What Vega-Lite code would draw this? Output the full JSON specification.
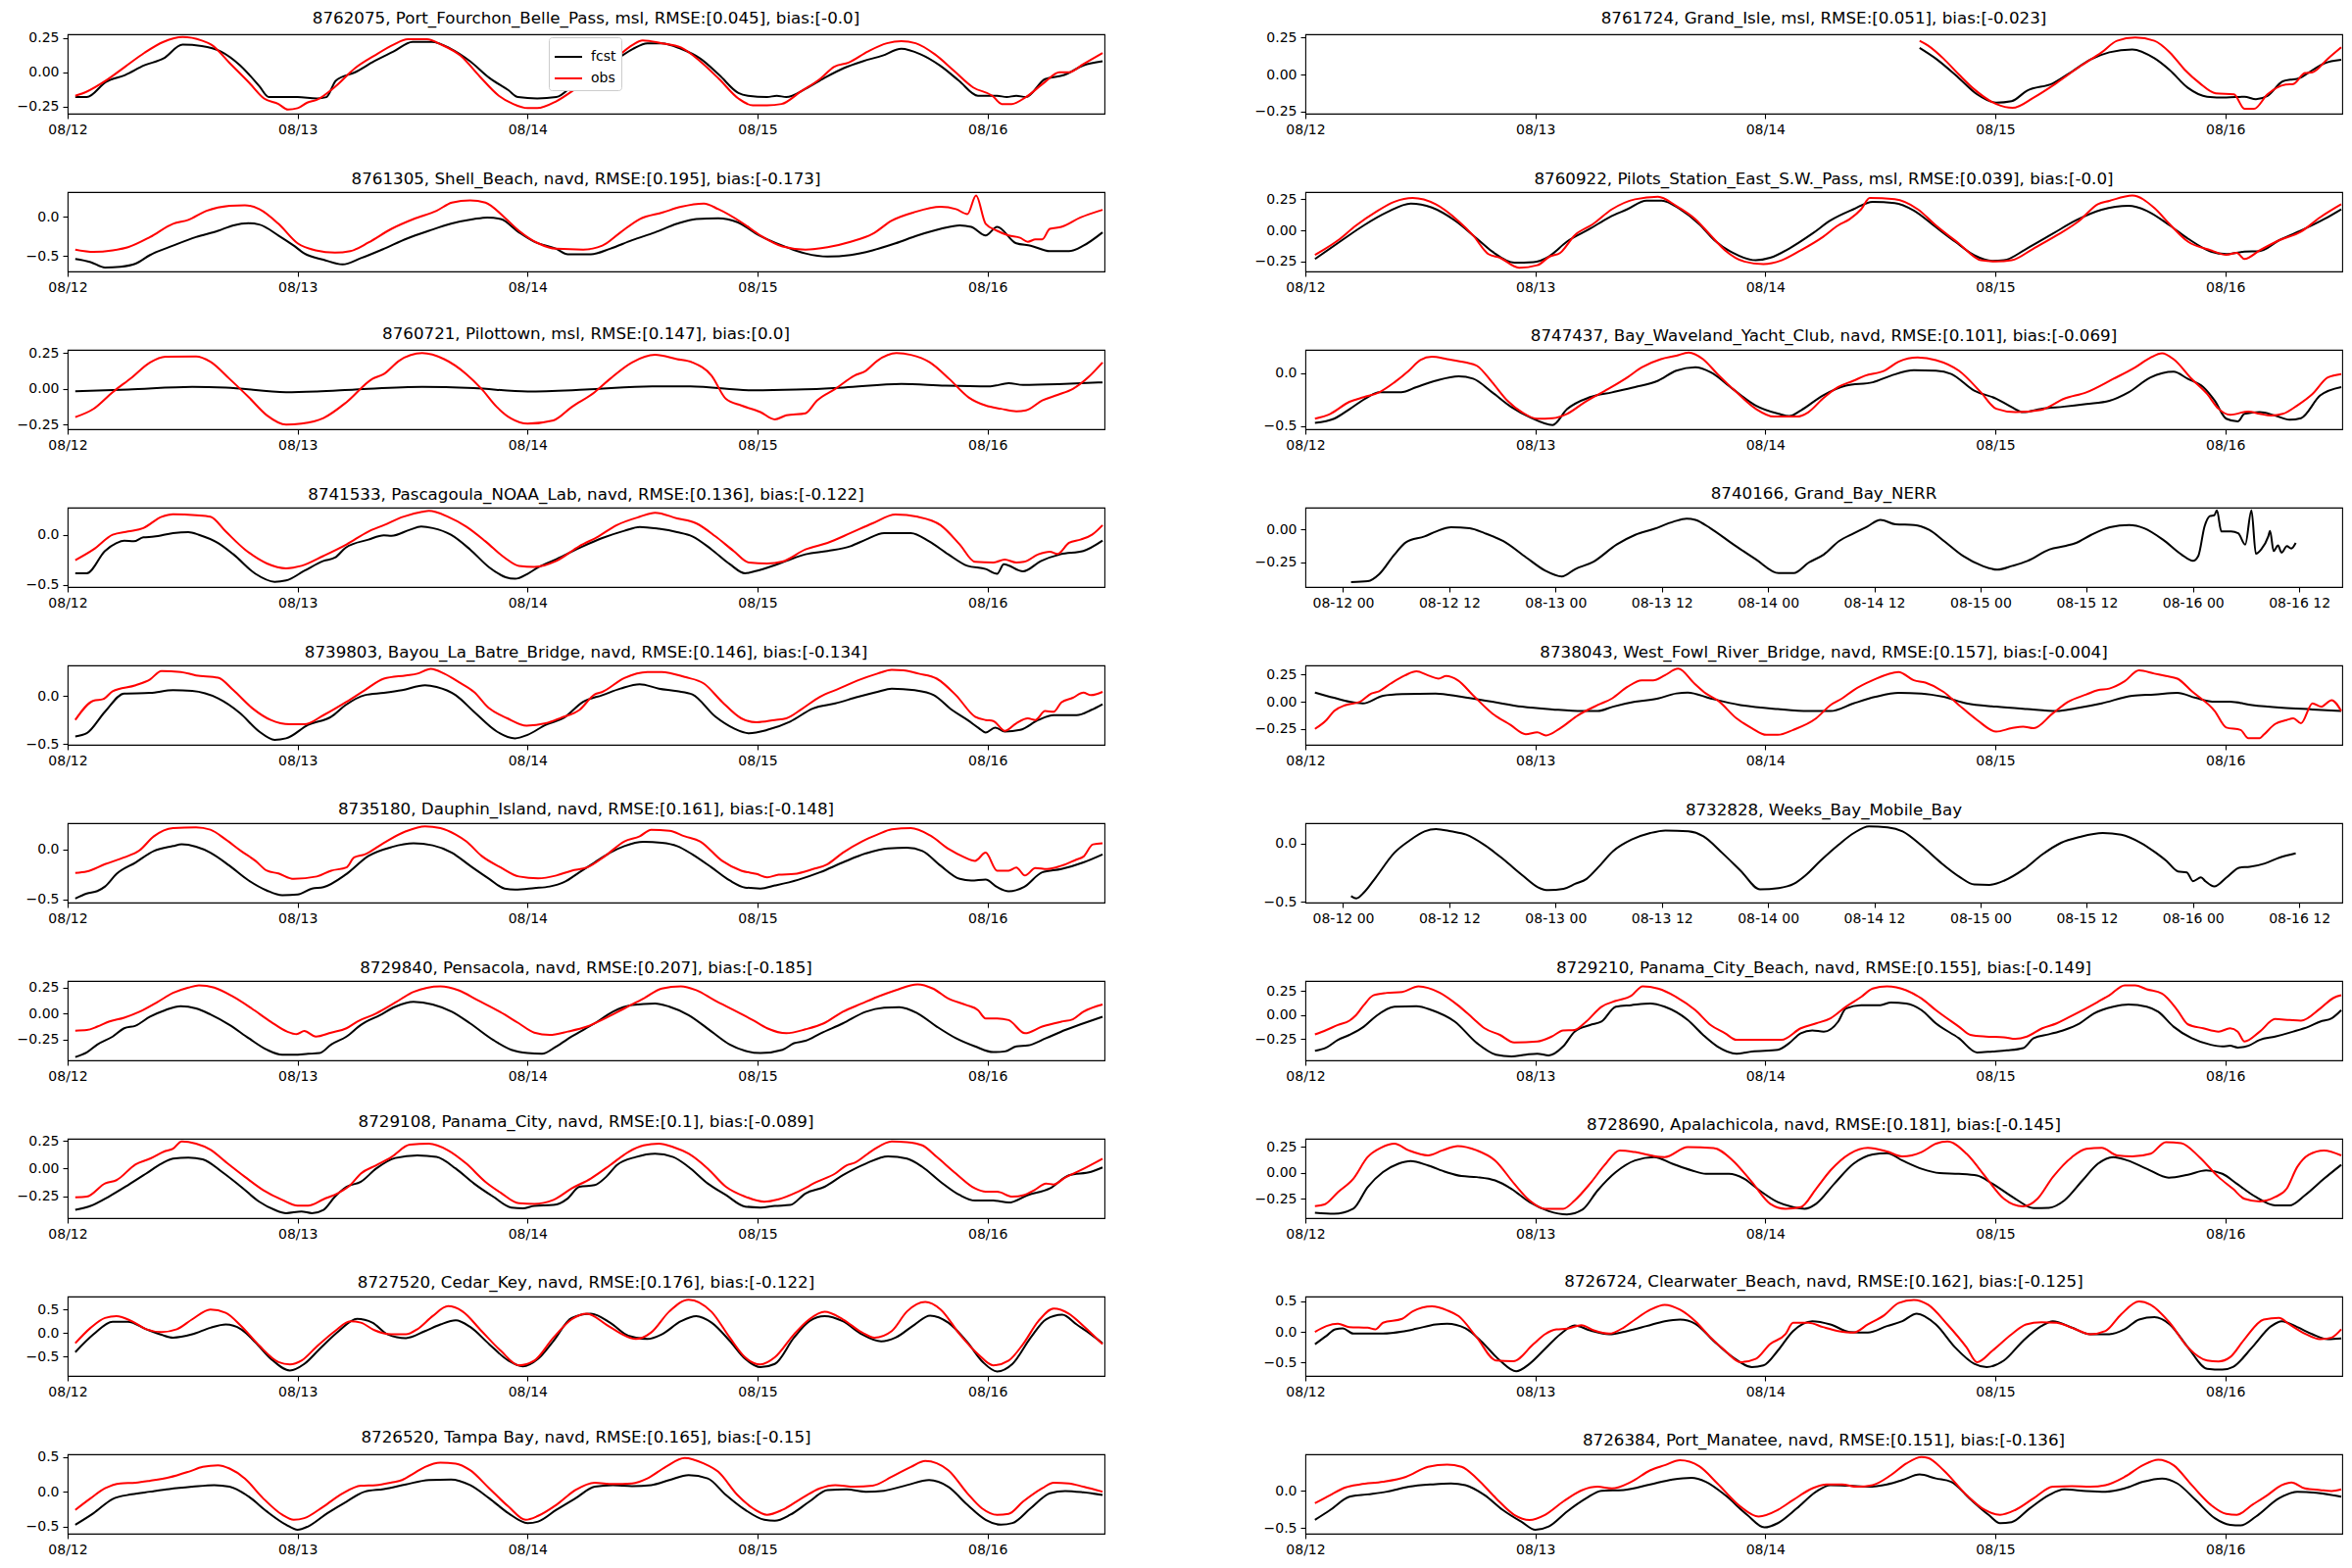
{
"$schema": "https://vega.github.io/schema/vega-lite/v6.json",
"padding": {"left": 16, "top": 10, "right": 5, "bottom": 5},
"background": "white",
"config": {
 "font": "DejaVu Sans",
 "view": {"stroke": "black", "strokeWidth": 1.1},
 "axis": {"grid": false, "domain": false, "tickColor": "black", "tickSize": 5, "tickWidth": 1.1, "labelFontSize": 14, "labelColor": "black", "labelPadding": 4, "title": null, "labelFlush": false, "labelOverlap": false},
 "title": {"fontSize": 16.7, "fontWeight": "normal", "offset": 4, "color": "black", "frame": "group"},
 "line": {"strokeWidth": 2, "interpolate": "monotone", "clip": true}
},
"datasets": {
"p1": [{"h":0.8,"fcst":-0.18},{"h":2,"fcst":-0.18},{"h":4,"fcst":-0.07},{"h":6,"fcst":-0.02},{"h":8,"fcst":0.05},{"h":10,"fcst":0.1},{"h":12,"fcst":0.2},{"h":14,"fcst":0.19},{"h":16,"fcst":0.15},{"h":18,"fcst":0.05},{"h":20,"fcst":-0.1},{"h":21,"fcst":-0.18},{"h":24,"fcst":-0.18},{"h":26,"fcst":-0.19},{"h":27,"fcst":-0.18},{"h":28,"fcst":-0.06},{"h":30,"fcst":0},{"h":32,"fcst":0.08},{"h":34,"fcst":0.15},{"h":36,"fcst":0.22},{"h":38,"fcst":0.22},{"h":40,"fcst":0.17},{"h":42,"fcst":0.08},{"h":44,"fcst":-0.04},{"h":46,"fcst":-0.13},{"h":47,"fcst":-0.18},{"h":49,"fcst":-0.19},{"h":51,"fcst":-0.18},{"h":53,"fcst":-0.08},{"h":55,"fcst":0},{"h":57,"fcst":0.08},{"h":59,"fcst":0.17},{"h":60.5,"fcst":0.21},{"h":62,"fcst":0.21},{"h":64,"fcst":0.17},{"h":66,"fcst":0.1},{"h":68,"fcst":-0.02},{"h":70,"fcst":-0.15},{"h":71,"fcst":-0.17},{"h":73,"fcst":-0.18},{"h":74,"fcst":-0.17},{"h":75,"fcst":-0.18},{"h":77,"fcst":-0.12},{"h":79,"fcst":-0.04},{"h":81,"fcst":0.03},{"h":83,"fcst":0.08},{"h":85,"fcst":0.12},{"h":87,"fcst":0.17},{"h":89,"fcst":0.13},{"h":91,"fcst":0.05},{"h":93,"fcst":-0.06},{"h":95,"fcst":-0.17},{"h":97,"fcst":-0.17},{"h":98,"fcst":-0.18},{"h":99,"fcst":-0.17},{"h":100,"fcst":-0.18},{"h":102,"fcst":-0.05},{"h":104,"fcst":-0.02},{"h":106,"fcst":0.05},{"h":108,"fcst":0.08},
{"h":0.8,"obs":-0.17},{"h":2,"obs":-0.14},{"h":4,"obs":-0.06},{"h":6,"obs":0.04},{"h":8,"obs":0.14},{"h":10,"obs":0.22},{"h":12,"obs":0.255},{"h":14,"obs":0.23},{"h":15,"obs":0.2},{"h":17,"obs":0.06},{"h":19,"obs":-0.08},{"h":20.5,"obs":-0.19},{"h":22,"obs":-0.23},{"h":23,"obs":-0.27},{"h":24,"obs":-0.26},{"h":25,"obs":-0.22},{"h":26,"obs":-0.2},{"h":28,"obs":-0.1},{"h":30,"obs":0.03},{"h":32,"obs":0.12},{"h":34,"obs":0.2},{"h":35.5,"obs":0.24},{"h":37.5,"obs":0.24},{"h":39,"obs":0.2},{"h":41,"obs":0.12},{"h":43,"obs":-0.03},{"h":45,"obs":-0.17},{"h":46.5,"obs":-0.23},{"h":48,"obs":-0.26},{"h":49,"obs":-0.26},{"h":51,"obs":-0.21},{"h":53,"obs":-0.12},{"h":55,"obs":-0.02},{"h":57,"obs":0.09},{"h":59,"obs":0.2},{"h":60,"obs":0.23},{"h":62,"obs":0.21},{"h":64,"obs":0.18},{"h":66,"obs":0.08},{"h":68,"obs":-0.05},{"h":70,"obs":-0.19},{"h":71.5,"obs":-0.24},{"h":73,"obs":-0.24},{"h":74.5,"obs":-0.23},{"h":76.5,"obs":-0.14},{"h":78.5,"obs":-0.05},{"h":80,"obs":0.04},{"h":81.5,"obs":0.07},{"h":83.5,"obs":0.15},{"h":85.5,"obs":0.21},{"h":87,"obs":0.225},{"h":88.5,"obs":0.21},{"h":90.5,"obs":0.13},{"h":92.5,"obs":0.01},{"h":94.5,"obs":-0.11},{"h":96.5,"obs":-0.17},{"h":97.5,"obs":-0.23},{"h":98.5,"obs":-0.23},{"h":100,"obs":-0.18},{"h":102,"obs":-0.07},{"h":103.5,"obs":0},{"h":104.5,"obs":0},{"h":106,"obs":0.06},{"h":108,"obs":0.14}],
"p2": [{"h":64.1,"fcst":0.18},{"h":65.8,"fcst":0.107},{"h":68.2,"fcst":-0.024},{"h":70.1,"fcst":-0.134},{"h":72.1,"fcst":-0.19},{"h":73.7,"fcst":-0.18},{"h":75.3,"fcst":-0.11},{"h":78,"fcst":-0.06},{"h":80,"fcst":0.02},{"h":81.9,"fcst":0.1},{"h":83.9,"fcst":0.15},{"h":86.3,"fcst":0.17},{"h":88.6,"fcst":0.11},{"h":90.2,"fcst":0.03},{"h":92.1,"fcst":-0.09},{"h":94.1,"fcst":-0.15},{"h":96.1,"fcst":-0.156},{"h":98,"fcst":-0.15},{"h":99.2,"fcst":-0.167},{"h":100.4,"fcst":-0.145},{"h":102,"fcst":-0.046},{"h":102.8,"fcst":-0.035},{"h":103.5,"fcst":-0.03},{"h":105.1,"fcst":0.03},{"h":106.3,"fcst":0.075},{"h":108.1,"fcst":0.1},
{"h":64.1,"obs":0.228},{"h":65,"obs":0.195},{"h":66.6,"obs":0.107},{"h":68.2,"obs":0},{"h":69.8,"obs":-0.1},{"h":72.1,"obs":-0.2},{"h":73.8,"obs":-0.226},{"h":76,"obs":-0.156},{"h":78.4,"obs":-0.057},{"h":80.8,"obs":0.053},{"h":83.1,"obs":0.15},{"h":84.7,"obs":0.228},{"h":86.6,"obs":0.25},{"h":88.6,"obs":0.228},{"h":90.2,"obs":0.15},{"h":91.8,"obs":0.03},{"h":93.3,"obs":-0.057},{"h":95,"obs":-0.127},{"h":96.9,"obs":-0.134},{"h":98,"obs":-0.232},{"h":99,"obs":-0.232},{"h":100.4,"obs":-0.134},{"h":102.3,"obs":-0.068},{"h":103.1,"obs":-0.064},{"h":104.3,"obs":0.01},{"h":105.1,"obs":0.015},{"h":106.7,"obs":0.107},{"h":108.1,"obs":0.184}],
"p3": [{"h":0.8,"fcst":-0.54},{"h":2.4,"fcst":-0.58},{"h":3.9,"fcst":-0.65},{"h":5.5,"fcst":-0.64},{"h":7.1,"fcst":-0.6},{"h":8.6,"fcst":-0.49},{"h":11,"fcst":-0.37},{"h":13.4,"fcst":-0.26},{"h":15.7,"fcst":-0.18},{"h":17.3,"fcst":-0.11},{"h":18.9,"fcst":-0.084},{"h":20,"fcst":-0.1},{"h":22,"fcst":-0.24},{"h":23.6,"fcst":-0.37},{"h":24.7,"fcst":-0.47},{"h":26.7,"fcst":-0.55},{"h":28.7,"fcst":-0.61},{"h":30.6,"fcst":-0.53},{"h":33,"fcst":-0.41},{"h":35.4,"fcst":-0.28},{"h":37.7,"fcst":-0.18},{"h":40,"fcst":-0.09},{"h":42.4,"fcst":-0.03},{"h":43.8,"fcst":-0.01},{"h":45.2,"fcst":-0.03},{"h":47.1,"fcst":-0.2},{"h":48.7,"fcst":-0.32},{"h":51,"fcst":-0.41},{"h":52.2,"fcst":-0.48},{"h":54.6,"fcst":-0.48},{"h":56.6,"fcst":-0.41},{"h":58.9,"fcst":-0.3},{"h":61.3,"fcst":-0.2},{"h":63.6,"fcst":-0.09},{"h":65.6,"fcst":-0.03},{"h":67.9,"fcst":-0.02},{"h":69.9,"fcst":-0.07},{"h":72.2,"fcst":-0.24},{"h":74.6,"fcst":-0.37},{"h":77,"fcst":-0.47},{"h":79.3,"fcst":-0.51},{"h":81.7,"fcst":-0.49},{"h":84,"fcst":-0.43},{"h":86.4,"fcst":-0.34},{"h":88.7,"fcst":-0.24},{"h":91.1,"fcst":-0.155},{"h":93.1,"fcst":-0.11},{"h":94.3,"fcst":-0.13},{"h":95.8,"fcst":-0.24},{"h":97,"fcst":-0.13},{"h":99,"fcst":-0.34},{"h":100.5,"fcst":-0.37},{"h":102.5,"fcst":-0.44},{"h":104.5,"fcst":-0.44},{"h":106,"fcst":-0.37},{"h":108,"fcst":-0.2},
{"h":0.8,"obs":-0.42},{"h":2.7,"obs":-0.45},{"h":4.7,"obs":-0.43},{"h":6.3,"obs":-0.39},{"h":8.6,"obs":-0.26},{"h":11,"obs":-0.09},{"h":12.6,"obs":-0.04},{"h":14.5,"obs":0.076},{"h":16.9,"obs":0.14},{"h":18.5,"obs":0.147},{"h":20,"obs":0.097},{"h":22,"obs":-0.09},{"h":24,"obs":-0.34},{"h":25.9,"obs":-0.43},{"h":27.9,"obs":-0.46},{"h":29.5,"obs":-0.44},{"h":31.4,"obs":-0.33},{"h":33.8,"obs":-0.155},{"h":36.1,"obs":-0.03},{"h":38.5,"obs":0.076},{"h":40.1,"obs":0.18},{"h":42,"obs":0.21},{"h":43.6,"obs":0.18},{"h":45.6,"obs":-0.01},{"h":47.1,"obs":-0.18},{"h":49.1,"obs":-0.34},{"h":51,"obs":-0.41},{"h":53.8,"obs":-0.42},{"h":55.8,"obs":-0.37},{"h":57.7,"obs":-0.2},{"h":59.7,"obs":-0.03},{"h":62.1,"obs":0.055},{"h":64,"obs":0.126},{"h":66.4,"obs":0.168},{"h":67.9,"obs":0.097},{"h":70.3,"obs":-0.07},{"h":72.3,"obs":-0.24},{"h":74.6,"obs":-0.38},{"h":77,"obs":-0.42},{"h":79.3,"obs":-0.39},{"h":81.7,"obs":-0.32},{"h":84,"obs":-0.22},{"h":86,"obs":-0.05},{"h":88.3,"obs":0.055},{"h":91.1,"obs":0.126},{"h":92.7,"obs":0.097},{"h":93.9,"obs":0.034},{"h":94.8,"obs":0.27},{"h":95.8,"obs":-0.09},{"h":97,"obs":-0.18},{"h":98.2,"obs":-0.24},{"h":99.4,"obs":-0.27},{"h":100.2,"obs":-0.32},{"h":101,"obs":-0.29},{"h":101.7,"obs":-0.29},{"h":102.5,"obs":-0.155},{"h":103.7,"obs":-0.13},{"h":105.7,"obs":-0.01},{"h":108,"obs":0.088}],
"p4": [{"h":1,"fcst":-0.23},{"h":3.8,"fcst":-0.08},{"h":6.1,"fcst":0.04},{"h":8.5,"fcst":0.145},{"h":11,"fcst":0.216},{"h":13.2,"fcst":0.184},{"h":15.6,"fcst":0.08},{"h":17.9,"fcst":-0.066},{"h":19.5,"fcst":-0.17},{"h":21.8,"fcst":-0.26},{"h":23.8,"fcst":-0.255},{"h":25.4,"fcst":-0.21},{"h":27.3,"fcst":-0.09},{"h":29.7,"fcst":0.013},{"h":31.7,"fcst":0.105},{"h":33.6,"fcst":0.17},{"h":35.6,"fcst":0.24},{"h":37.2,"fcst":0.24},{"h":39.1,"fcst":0.17},{"h":41.1,"fcst":0.05},{"h":42.7,"fcst":-0.08},{"h":44.6,"fcst":-0.18},{"h":47,"fcst":-0.24},{"h":48.5,"fcst":-0.22},{"h":50.5,"fcst":-0.145},{"h":52.9,"fcst":-0.026},{"h":54.8,"fcst":0.08},{"h":57.2,"fcst":0.17},{"h":59.2,"fcst":0.23},{"h":61.5,"fcst":0.22},{"h":63.5,"fcst":0.16},{"h":65.8,"fcst":0.026},{"h":67.8,"fcst":-0.09},{"h":69.8,"fcst":-0.2},{"h":71.7,"fcst":-0.245},{"h":72.9,"fcst":-0.24},{"h":75.3,"fcst":-0.145},{"h":78,"fcst":-0.026},{"h":80.4,"fcst":0.08},{"h":83.1,"fcst":0.166},{"h":85.9,"fcst":0.197},{"h":87.8,"fcst":0.158},{"h":90.2,"fcst":0.04},{"h":92.1,"fcst":-0.066},{"h":94.5,"fcst":-0.17},{"h":96.1,"fcst":-0.19},{"h":98,"fcst":-0.17},{"h":99.6,"fcst":-0.166},{"h":101.6,"fcst":-0.08},{"h":104.3,"fcst":0.013},{"h":106.3,"fcst":0.09},{"h":108.1,"fcst":0.17},
{"h":1,"obs":-0.197},{"h":3.4,"obs":-0.08},{"h":5.3,"obs":0.04},{"h":7.3,"obs":0.145},{"h":9.3,"obs":0.23},{"h":11.2,"obs":0.26},{"h":13.6,"obs":0.21},{"h":15.9,"obs":0.08},{"h":17.5,"obs":-0.04},{"h":19.1,"obs":-0.19},{"h":20.3,"obs":-0.22},{"h":22.3,"obs":-0.3},{"h":24.2,"obs":-0.28},{"h":25.5,"obs":-0.21},{"h":26.6,"obs":-0.18},{"h":28.1,"obs":-0.04},{"h":30,"obs":0.05},{"h":32,"obs":0.17},{"h":34.4,"obs":0.25},{"h":36.8,"obs":0.27},{"h":38.7,"obs":0.197},{"h":40.7,"obs":0.09},{"h":42.3,"obs":-0.04},{"h":43.8,"obs":-0.16},{"h":45.8,"obs":-0.25},{"h":47.8,"obs":-0.27},{"h":49.7,"obs":-0.24},{"h":51.7,"obs":-0.16},{"h":54,"obs":-0.053},{"h":55.6,"obs":0.04},{"h":56.8,"obs":0.09},{"h":58,"obs":0.17},{"h":58.9,"obs":0.26},{"h":61.5,"obs":0.25},{"h":63.9,"obs":0.17},{"h":65.8,"obs":0.04},{"h":68.2,"obs":-0.105},{"h":70.5,"obs":-0.24},{"h":72.1,"obs":-0.25},{"h":73.7,"obs":-0.24},{"h":76,"obs":-0.145},{"h":78.4,"obs":-0.04},{"h":80.8,"obs":0.08},{"h":82.7,"obs":0.21},{"h":83.9,"obs":0.237},{"h":86.3,"obs":0.28},{"h":88.6,"obs":0.18},{"h":90.2,"obs":0.05},{"h":92.1,"obs":-0.09},{"h":94.5,"obs":-0.16},{"h":96.1,"obs":-0.197},{"h":97.2,"obs":-0.18},{"h":98,"obs":-0.23},{"h":99.6,"obs":-0.16},{"h":101.6,"obs":-0.08},{"h":103.9,"obs":-0.01},{"h":105.9,"obs":0.105},{"h":108.1,"obs":0.21}],
"p5": [{"h":0.8,"fcst":-0.016},{"h":6.3,"fcst":-0.005},{"h":13,"fcst":0.014},{"h":16.5,"fcst":0.01},{"h":22.8,"fcst":-0.023},{"h":26,"fcst":-0.018},{"h":30,"fcst":-0.005},{"h":37,"fcst":0.014},{"h":42.4,"fcst":0.005},{"h":48,"fcst":-0.018},{"h":54,"fcst":-0.005},{"h":61,"fcst":0.018},{"h":65,"fcst":0.018},{"h":71.5,"fcst":-0.01},{"h":76,"fcst":-0.005},{"h":81,"fcst":0.01},{"h":87,"fcst":0.035},{"h":91.6,"fcst":0.023},{"h":96.3,"fcst":0.018},{"h":98.2,"fcst":0.04},{"h":99.7,"fcst":0.028},{"h":104,"fcst":0.035},{"h":108,"fcst":0.046},
{"h":0.8,"obs":-0.197},{"h":2.7,"obs":-0.14},{"h":4.7,"obs":-0.023},{"h":6.7,"obs":0.08},{"h":8.6,"obs":0.185},{"h":10.2,"obs":0.225},{"h":13.4,"obs":0.227},{"h":14.9,"obs":0.19},{"h":16.9,"obs":0.07},{"h":18.9,"obs":-0.058},{"h":20.8,"obs":-0.185},{"h":22.8,"obs":-0.25},{"h":24.4,"obs":-0.243},{"h":26.7,"obs":-0.204},{"h":29.1,"obs":-0.093},{"h":31.8,"obs":0.07},{"h":33,"obs":0.104},{"h":34.6,"obs":0.197},{"h":37,"obs":0.25},{"h":39.3,"obs":0.208},{"h":41.6,"obs":0.104},{"h":43.2,"obs":0},{"h":44.8,"obs":-0.127},{"h":46.3,"obs":-0.208},{"h":48,"obs":-0.243},{"h":50.7,"obs":-0.22},{"h":52.6,"obs":-0.127},{"h":55,"obs":-0.023},{"h":56.6,"obs":0.07},{"h":58.9,"obs":0.185},{"h":61.3,"obs":0.238},{"h":63.6,"obs":0.208},{"h":65.2,"obs":0.185},{"h":67.2,"obs":0.093},{"h":68.7,"obs":-0.07},{"h":70.3,"obs":-0.116},{"h":72.3,"obs":-0.162},{"h":73.8,"obs":-0.213},{"h":75,"obs":-0.185},{"h":77,"obs":-0.17},{"h":78.2,"obs":-0.081},{"h":80.1,"obs":0},{"h":82.1,"obs":0.093},{"h":83.3,"obs":0.127},{"h":84.5,"obs":0.197},{"h":86.5,"obs":0.25},{"h":88,"obs":0.238},{"h":90,"obs":0.185},{"h":92,"obs":0.07},{"h":94,"obs":-0.058},{"h":95.8,"obs":-0.116},{"h":97.4,"obs":-0.139},{"h":99,"obs":-0.157},{"h":100,"obs":-0.15},{"h":101.7,"obs":-0.081},{"h":103.3,"obs":-0.042},{"h":104.9,"obs":0},{"h":106.5,"obs":0.081},{"h":108,"obs":0.185}],
"p6": [{"h":1,"fcst":-0.47},{"h":3,"fcst":-0.43},{"h":4.6,"fcst":-0.34},{"h":6.5,"fcst":-0.226},{"h":7.7,"fcst":-0.18},{"h":10,"fcst":-0.18},{"h":11.6,"fcst":-0.13},{"h":13.6,"fcst":-0.07},{"h":16,"fcst":-0.028},{"h":17.5,"fcst":-0.05},{"h":19.5,"fcst":-0.18},{"h":21.5,"fcst":-0.32},{"h":23.4,"fcst":-0.415},{"h":25.8,"fcst":-0.49},{"h":27.3,"fcst":-0.34},{"h":29.7,"fcst":-0.226},{"h":32,"fcst":-0.18},{"h":34.4,"fcst":-0.13},{"h":36.8,"fcst":-0.07},{"h":38.7,"fcst":0.025},{"h":40.7,"fcst":0.057},{"h":42.3,"fcst":0.01},{"h":44.6,"fcst":-0.148},{"h":47,"fcst":-0.305},{"h":49.4,"fcst":-0.384},{"h":50.5,"fcst":-0.405},{"h":51.7,"fcst":-0.352},{"h":54,"fcst":-0.21},{"h":56.4,"fcst":-0.116},{"h":59.2,"fcst":-0.085},{"h":61.1,"fcst":-0.022},{"h":63.5,"fcst":0.03},{"h":65.8,"fcst":0.025},{"h":67.4,"fcst":-0.006},{"h":69.8,"fcst":-0.164},{"h":72.1,"fcst":-0.24},{"h":73.7,"fcst":-0.32},{"h":74.9,"fcst":-0.368},{"h":76.8,"fcst":-0.336},{"h":79.2,"fcst":-0.315},{"h":81.5,"fcst":-0.29},{"h":83.9,"fcst":-0.26},{"h":85.9,"fcst":-0.18},{"h":88.2,"fcst":-0.038},{"h":90.6,"fcst":0.016},{"h":92.1,"fcst":-0.053},{"h":93.7,"fcst":-0.13},{"h":94.9,"fcst":-0.26},{"h":96.1,"fcst":-0.43},{"h":97.3,"fcst":-0.456},{"h":98,"fcst":-0.384},{"h":99.6,"fcst":-0.368},{"h":101.2,"fcst":-0.4},{"h":102.7,"fcst":-0.44},{"h":103.9,"fcst":-0.425},{"h":105.9,"fcst":-0.21},{"h":108.1,"fcst":-0.13},
{"h":1,"obs":-0.43},{"h":2.6,"obs":-0.384},{"h":4.6,"obs":-0.27},{"h":6.1,"obs":-0.226},{"h":7.7,"obs":-0.18},{"h":9.3,"obs":-0.085},{"h":10.8,"obs":0.025},{"h":12,"obs":0.126},{"h":13.2,"obs":0.157},{"h":14.8,"obs":0.135},{"h":16.7,"obs":0.104},{"h":17.9,"obs":0.072},{"h":19.5,"obs":-0.085},{"h":21.1,"obs":-0.26},{"h":22.6,"obs":-0.368},{"h":24.2,"obs":-0.43},{"h":25.8,"obs":-0.425},{"h":27.3,"obs":-0.384},{"h":29.2,"obs":-0.27},{"h":31.6,"obs":-0.148},{"h":33.6,"obs":-0.038},{"h":35.1,"obs":0.057},{"h":37.1,"obs":0.135},{"h":38.7,"obs":0.167},{"h":40,"obs":0.198},{"h":41.5,"obs":0.135},{"h":43,"obs":-0.006},{"h":45,"obs":-0.18},{"h":47,"obs":-0.336},{"h":48.9,"obs":-0.41},{"h":51.3,"obs":-0.41},{"h":52.5,"obs":-0.368},{"h":54,"obs":-0.24},{"h":55.6,"obs":-0.13},{"h":57.2,"obs":-0.07},{"h":58.4,"obs":-0.022},{"h":60.4,"obs":0.025},{"h":61.9,"obs":0.11},{"h":63.9,"obs":0.15},{"h":65.8,"obs":0.126},{"h":68.2,"obs":0.025},{"h":70.5,"obs":-0.18},{"h":72.1,"obs":-0.336},{"h":74.1,"obs":-0.368},{"h":76.8,"obs":-0.346},{"h":79.2,"obs":-0.24},{"h":81.5,"obs":-0.18},{"h":84.3,"obs":-0.053},{"h":86.6,"obs":0.057},{"h":88.2,"obs":0.15},{"h":89.4,"obs":0.19},{"h":90.6,"obs":0.135},{"h":92.5,"obs":-0.053},{"h":94.1,"obs":-0.195},{"h":95.3,"obs":-0.336},{"h":96.5,"obs":-0.393},{"h":98.4,"obs":-0.362},{"h":99.6,"obs":-0.384},{"h":100.8,"obs":-0.4},{"h":102,"obs":-0.384},{"h":103.5,"obs":-0.305},{"h":105.1,"obs":-0.195},{"h":106.7,"obs":-0.038},{"h":108.1,"obs":-0.006}],
"p7": [{"h":0.8,"fcst":-0.385},{"h":2,"fcst":-0.385},{"h":3.9,"fcst":-0.16},{"h":5.1,"fcst":-0.08},{"h":5.9,"fcst":-0.056},{"h":6.9,"fcst":-0.063},{"h":7.9,"fcst":-0.023},{"h":9,"fcst":-0.016},{"h":11,"fcst":0.02},{"h":12.6,"fcst":0.03},{"h":13.7,"fcst":0.003},{"h":15.7,"fcst":-0.08},{"h":17.3,"fcst":-0.194},{"h":19.6,"fcst":-0.39},{"h":21.6,"fcst":-0.47},{"h":22.8,"fcst":-0.457},{"h":24.7,"fcst":-0.36},{"h":26.7,"fcst":-0.26},{"h":27.9,"fcst":-0.227},{"h":29,"fcst":-0.128},{"h":31.4,"fcst":-0.046},{"h":33,"fcst":-0.003},{"h":33.8,"fcst":-0.007},{"h":35.7,"fcst":0.053},{"h":36.9,"fcst":0.085},{"h":38.1,"fcst":0.07},{"h":40,"fcst":0.003},{"h":42,"fcst":-0.145},{"h":44,"fcst":-0.325},{"h":45.7,"fcst":-0.424},{"h":46.7,"fcst":-0.44},{"h":48,"fcst":-0.39},{"h":49.1,"fcst":-0.325},{"h":51,"fcst":-0.243},{"h":53.8,"fcst":-0.112},{"h":55.8,"fcst":-0.03},{"h":58.1,"fcst":0.043},{"h":59.7,"fcst":0.082},{"h":61.7,"fcst":0.063},{"h":63.6,"fcst":0.03},{"h":65.2,"fcst":-0.013},{"h":67.2,"fcst":-0.145},{"h":69.1,"fcst":-0.293},{"h":70.7,"fcst":-0.385},{"h":71.9,"fcst":-0.36},{"h":73.4,"fcst":-0.316},{"h":75,"fcst":-0.26},{"h":77,"fcst":-0.194},{"h":79.3,"fcst":-0.16},{"h":81.7,"fcst":-0.112},{"h":83.3,"fcst":-0.046},{"h":85.2,"fcst":0.02},{"h":88,"fcst":0.02},{"h":89.9,"fcst":-0.063},{"h":91.9,"fcst":-0.194},{"h":93.9,"fcst":-0.31},{"h":95.8,"fcst":-0.342},{"h":97,"fcst":-0.39},{"h":97.7,"fcst":-0.293},{"h":99.7,"fcst":-0.365},{"h":101.6,"fcst":-0.26},{"h":103.6,"fcst":-0.194},{"h":106,"fcst":-0.16},{"h":108,"fcst":-0.056},
{"h":0.8,"obs":-0.253},{"h":2.7,"obs":-0.145},{"h":4.7,"obs":0.003},{"h":6.3,"obs":0.036},{"h":7.9,"obs":0.07},{"h":9.8,"obs":0.184},{"h":11,"obs":0.21},{"h":13.4,"obs":0.2},{"h":14.9,"obs":0.184},{"h":16.5,"obs":0.036},{"h":18.5,"obs":-0.145},{"h":20.8,"obs":-0.286},{"h":22.8,"obs":-0.335},{"h":24.4,"obs":-0.31},{"h":26.7,"obs":-0.21},{"h":29.1,"obs":-0.095},{"h":31.4,"obs":0.036},{"h":33,"obs":0.1},{"h":35,"obs":0.184},{"h":37,"obs":0.234},{"h":37.7,"obs":0.243},{"h":39.7,"obs":0.184},{"h":41.6,"obs":0.085},{"h":43.6,"obs":-0.063},{"h":45.6,"obs":-0.227},{"h":47.1,"obs":-0.31},{"h":48.7,"obs":-0.32},{"h":51,"obs":-0.26},{"h":53.4,"obs":-0.112},{"h":55.4,"obs":-0.013},{"h":57.3,"obs":0.1},{"h":59.7,"obs":0.184},{"h":61.3,"obs":0.224},{"h":63.6,"obs":0.168},{"h":65.6,"obs":0.118},{"h":67.6,"obs":-0.013},{"h":69.5,"obs":-0.16},{"h":71.1,"obs":-0.276},{"h":73,"obs":-0.286},{"h":74.6,"obs":-0.266},{"h":77,"obs":-0.145},{"h":79.3,"obs":-0.079},{"h":81.7,"obs":0.02},{"h":84,"obs":0.118},{"h":86.4,"obs":0.207},{"h":88.7,"obs":0.184},{"h":91.1,"obs":0.1},{"h":93.1,"obs":-0.095},{"h":94.7,"obs":-0.27},{"h":96.6,"obs":-0.276},{"h":97.8,"obs":-0.247},{"h":99,"obs":-0.276},{"h":99.8,"obs":-0.27},{"h":101.3,"obs":-0.194},{"h":102.5,"obs":-0.168},{"h":103.3,"obs":-0.19},{"h":104.5,"obs":-0.079},{"h":105.7,"obs":-0.046},{"h":106.9,"obs":0.003},{"h":108,"obs":0.1}],
"p8": [{"h":0.9,"fcst":-0.397},{"h":2.8,"fcst":-0.39},{"h":4.1,"fcst":-0.336},{"h":5.8,"fcst":-0.19},{"h":7.1,"fcst":-0.098},{"h":9.2,"fcst":-0.054},{"h":10.5,"fcst":-0.017},{"h":12.2,"fcst":0.015},{"h":14.3,"fcst":0.007},{"h":16,"fcst":-0.03},{"h":18.1,"fcst":-0.09},{"h":20.7,"fcst":-0.213},{"h":22.8,"fcst":-0.31},{"h":24.7,"fcst":-0.355},{"h":26.2,"fcst":-0.3},{"h":28.3,"fcst":-0.243},{"h":30.9,"fcst":-0.115},{"h":33,"fcst":-0.042},{"h":35.1,"fcst":0.002},{"h":37.3,"fcst":0.056},{"h":38.8,"fcst":0.08},{"h":39.8,"fcst":0.07},{"h":41.5,"fcst":0.007},{"h":44.1,"fcst":-0.115},{"h":46.6,"fcst":-0.225},{"h":49.2,"fcst":-0.33},{"h":50.9,"fcst":-0.33},{"h":52.6,"fcst":-0.25},{"h":54.3,"fcst":-0.19},{"h":56,"fcst":-0.09},{"h":57.7,"fcst":-0.03},{"h":59.2,"fcst":0.02},{"h":60.7,"fcst":0.07},{"h":62.4,"fcst":0.037},{"h":64.5,"fcst":0.032},{"h":66.2,"fcst":-0.005},{"h":67.9,"fcst":-0.09},{"h":70,"fcst":-0.2},{"h":72.2,"fcst":-0.275},{"h":73.9,"fcst":-0.304},{"h":75.6,"fcst":-0.275},{"h":77.3,"fcst":-0.238},{"h":79.8,"fcst":-0.152},{"h":81.5,"fcst":-0.127},{"h":82.8,"fcst":-0.103},{"h":84.5,"fcst":-0.042},{"h":86.6,"fcst":0.015},{"h":88.8,"fcst":0.032},{"h":90.5,"fcst":0.007},{"h":92.6,"fcst":-0.078},{"h":94.7,"fcst":-0.19},{"h":96,"fcst":-0.238},{"h":96.6,"fcst":-0.2},{"h":97.3,"fcst":0.02},{"h":97.9,"fcst":0.098},{"h":98.4,"fcst":0.105},{"h":98.7,"fcst":0.142},{"h":99.2,"fcst":-0.017},{"h":100.3,"fcst":-0.017},{"h":101.1,"fcst":-0.03},{"h":101.9,"fcst":-0.115},{"h":102.6,"fcst":0.142},{"h":103.1,"fcst":-0.184},{"h":103.7,"fcst":-0.152},{"h":104.5,"fcst":-0.054},{"h":104.7,"fcst":-0.012},{"h":105.1,"fcst":-0.164},{"h":105.6,"fcst":-0.122},{"h":106,"fcst":-0.176},{"h":106.6,"fcst":-0.127},{"h":107.1,"fcst":-0.145},{"h":107.6,"fcst":-0.103}],
"p9": [{"h":0.8,"fcst":-0.42},{"h":2,"fcst":-0.387},{"h":3.9,"fcst":-0.164},{"h":5.9,"fcst":0.024},{"h":8.6,"fcst":0.03},{"h":11,"fcst":0.058},{"h":13,"fcst":0.05},{"h":15.7,"fcst":-0.027},{"h":18,"fcst":-0.18},{"h":20,"fcst":-0.37},{"h":21.6,"fcst":-0.455},{"h":22.8,"fcst":-0.44},{"h":25.1,"fcst":-0.3},{"h":27.5,"fcst":-0.216},{"h":29,"fcst":-0.096},{"h":31,"fcst":0.007},{"h":33,"fcst":0.03},{"h":34.9,"fcst":0.058},{"h":37.3,"fcst":0.11},{"h":38.5,"fcst":0.092},{"h":40.5,"fcst":0.007},{"h":42.4,"fcst":-0.164},{"h":44.8,"fcst":-0.37},{"h":46.7,"fcst":-0.44},{"h":48,"fcst":-0.404},{"h":49.9,"fcst":-0.3},{"h":51.8,"fcst":-0.226},{"h":53.8,"fcst":-0.062},{"h":55.8,"fcst":0.007},{"h":57.7,"fcst":0.075},{"h":59.7,"fcst":0.12},{"h":61.7,"fcst":0.075},{"h":63.6,"fcst":0.048},{"h":65.2,"fcst":0.014},{"h":67.6,"fcst":-0.216},{"h":69.5,"fcst":-0.336},{"h":71.1,"fcst":-0.387},{"h":73,"fcst":-0.353},{"h":75.4,"fcst":-0.267},{"h":77.8,"fcst":-0.13},{"h":80.1,"fcst":-0.079},{"h":82.5,"fcst":-0.01},{"h":84.5,"fcst":0.041},{"h":86,"fcst":0.075},{"h":88.4,"fcst":0.058},{"h":90.4,"fcst":0.007},{"h":92.3,"fcst":-0.147},{"h":93.9,"fcst":-0.25},{"h":95.1,"fcst":-0.336},{"h":95.8,"fcst":-0.38},{"h":96.8,"fcst":-0.329},{"h":97.8,"fcst":-0.37},{"h":99.4,"fcst":-0.353},{"h":101.3,"fcst":-0.25},{"h":102.9,"fcst":-0.2},{"h":105.3,"fcst":-0.2},{"h":106.8,"fcst":-0.147},{"h":108,"fcst":-0.086},
{"h":0.8,"obs":-0.25},{"h":2.7,"obs":-0.05},{"h":3.7,"obs":-0.034},{"h":4.7,"obs":0.048},{"h":7.1,"obs":0.11},{"h":8.6,"obs":0.17},{"h":9.8,"obs":0.257},{"h":11.8,"obs":0.247},{"h":13.4,"obs":0.212},{"h":15.7,"obs":0.188},{"h":17.3,"obs":0.058},{"h":19.3,"obs":-0.13},{"h":21.2,"obs":-0.25},{"h":23.2,"obs":-0.295},{"h":24.7,"obs":-0.295},{"h":26.7,"obs":-0.2},{"h":29.1,"obs":-0.062},{"h":31,"obs":0.058},{"h":33,"obs":0.178},{"h":35.3,"obs":0.212},{"h":36.5,"obs":0.23},{"h":37.9,"obs":0.28},{"h":39.3,"obs":0.23},{"h":40.8,"obs":0.144},{"h":42.4,"obs":0.041},{"h":44,"obs":-0.13},{"h":45.9,"obs":-0.233},{"h":47.9,"obs":-0.308},{"h":49.9,"obs":-0.284},{"h":51.5,"obs":-0.226},{"h":53.4,"obs":-0.147},{"h":55,"obs":0.014},{"h":55.8,"obs":0.041},{"h":58.1,"obs":0.185},{"h":60.5,"obs":0.247},{"h":62,"obs":0.247},{"h":64.4,"obs":0.195},{"h":66.4,"obs":0.127},{"h":68.3,"obs":-0.062},{"h":70.3,"obs":-0.233},{"h":71.9,"obs":-0.274},{"h":73.8,"obs":-0.25},{"h":75,"obs":-0.233},{"h":76.6,"obs":-0.137},{"h":78.5,"obs":-0.01},{"h":80.5,"obs":0.075},{"h":82.5,"obs":0.161},{"h":84.5,"obs":0.23},{"h":86,"obs":0.27},{"h":87.2,"obs":0.264},{"h":88.8,"obs":0.23},{"h":90.7,"obs":0.178},{"h":92.7,"obs":0.007},{"h":94.7,"obs":-0.216},{"h":95.8,"obs":-0.25},{"h":96.6,"obs":-0.26},{"h":97.8,"obs":-0.363},{"h":99,"obs":-0.284},{"h":100.2,"obs":-0.233},{"h":101,"obs":-0.25},{"h":102,"obs":-0.158},{"h":102.9,"obs":-0.164},{"h":103.7,"obs":-0.068},{"h":104.9,"obs":-0.02},{"h":106,"obs":0.034},{"h":106.8,"obs":0.007},{"h":108,"obs":0.041}],
"p10": [{"h":1,"fcst":0.085},{"h":3,"fcst":0.036},{"h":4.6,"fcst":0},{"h":6,"fcst":-0.015},{"h":8.1,"fcst":0.055},{"h":10.1,"fcst":0.07},{"h":13.6,"fcst":0.076},{"h":16.3,"fcst":0.045},{"h":19.5,"fcst":0},{"h":22.6,"fcst":-0.045},{"h":25.8,"fcst":-0.07},{"h":28.9,"fcst":-0.085},{"h":30.5,"fcst":-0.085},{"h":32.1,"fcst":-0.045},{"h":34.4,"fcst":0},{"h":36.8,"fcst":0.03},{"h":38.7,"fcst":0.076},{"h":39.9,"fcst":0.085},{"h":42.3,"fcst":0.03},{"h":45.4,"fcst":-0.03},{"h":49.3,"fcst":-0.067},{"h":52.5,"fcst":-0.085},{"h":54.8,"fcst":-0.085},{"h":57.2,"fcst":-0.015},{"h":59.5,"fcst":0.045},{"h":61.9,"fcst":0.082},{"h":64.3,"fcst":0.076},{"h":66.6,"fcst":0.045},{"h":69,"fcst":-0.015},{"h":72.1,"fcst":-0.045},{"h":75.3,"fcst":-0.067},{"h":78.4,"fcst":-0.085},{"h":80.4,"fcst":-0.06},{"h":83.1,"fcst":-0.015},{"h":86.3,"fcst":0.055},{"h":88.6,"fcst":0.067},{"h":91,"fcst":0.082},{"h":92.9,"fcst":0.036},{"h":94.9,"fcst":0},{"h":96.5,"fcst":0},{"h":98.8,"fcst":-0.03},{"h":102,"fcst":-0.055},{"h":105.1,"fcst":-0.07},{"h":108.1,"fcst":-0.085},
{"h":1,"obs":-0.248},{"h":2.2,"obs":-0.167},{"h":3,"obs":-0.085},{"h":4.2,"obs":-0.03},{"h":5.7,"obs":0},{"h":6.9,"obs":0.076},{"h":7.7,"obs":0.097},{"h":8.9,"obs":0.167},{"h":10.4,"obs":0.242},{"h":11.6,"obs":0.279},{"h":12.8,"obs":0.242},{"h":13.9,"obs":0.212},{"h":14.7,"obs":0.236},{"h":15.9,"obs":0.197},{"h":17.5,"obs":0.06},{"h":19.5,"obs":-0.106},{"h":21.4,"obs":-0.212},{"h":23,"obs":-0.297},{"h":24.2,"obs":-0.28},{"h":25.1,"obs":-0.309},{"h":26.6,"obs":-0.242},{"h":28.5,"obs":-0.121},{"h":30.5,"obs":-0.03},{"h":32,"obs":0.03},{"h":33.6,"obs":0.136},{"h":35.1,"obs":0.197},{"h":36.3,"obs":0.197},{"h":37.5,"obs":0.242},{"h":38.9,"obs":0.303},{"h":40.6,"obs":0.167},{"h":41.8,"obs":0.076},{"h":43,"obs":0.015},{"h":45,"obs":-0.152},{"h":46.6,"obs":-0.242},{"h":48.1,"obs":-0.303},{"h":49.3,"obs":-0.303},{"h":50.9,"obs":-0.258},{"h":53.3,"obs":-0.152},{"h":54.8,"obs":-0.03},{"h":56,"obs":0.03},{"h":57.2,"obs":0.106},{"h":59.2,"obs":0.197},{"h":61.9,"obs":0.273},{"h":63.5,"obs":0.197},{"h":64.7,"obs":0.176},{"h":66.6,"obs":0.091},{"h":68.2,"obs":-0.03},{"h":70.1,"obs":-0.167},{"h":72.1,"obs":-0.273},{"h":73.7,"obs":-0.242},{"h":74.9,"obs":-0.227},{"h":76,"obs":-0.242},{"h":78,"obs":-0.106},{"h":79.6,"obs":0},{"h":81.5,"obs":0.067},{"h":82.7,"obs":0.106},{"h":83.9,"obs":0.121},{"h":85.5,"obs":0.188},{"h":87,"obs":0.288},{"h":88.6,"obs":0.258},{"h":89.8,"obs":0.236},{"h":91,"obs":0.212},{"h":92.5,"obs":0.097},{"h":94.9,"obs":-0.085},{"h":96.1,"obs":-0.236},{"h":97.6,"obs":-0.258},{"h":98.4,"obs":-0.333},{"h":99.6,"obs":-0.333},{"h":100,"obs":-0.303},{"h":101.2,"obs":-0.203},{"h":102.4,"obs":-0.167},{"h":103.1,"obs":-0.152},{"h":103.9,"obs":-0.197},{"h":105.1,"obs":-0.015},{"h":106,"obs":-0.045},{"h":107.1,"obs":0.015},{"h":108.1,"obs":-0.085}],
"p11": [{"h":0.8,"fcst":-0.49},{"h":2,"fcst":-0.44},{"h":3.1,"fcst":-0.415},{"h":3.9,"fcst":-0.37},{"h":5.1,"fcst":-0.245},{"h":7.1,"fcst":-0.13},{"h":9,"fcst":-0.016},{"h":11,"fcst":0.033},{"h":11.9,"fcst":0.05},{"h":13.4,"fcst":0.026},{"h":14.9,"fcst":-0.033},{"h":16.9,"fcst":-0.163},{"h":18.9,"fcst":-0.31},{"h":20.8,"fcst":-0.41},{"h":22.4,"fcst":-0.457},{"h":24,"fcst":-0.45},{"h":25.5,"fcst":-0.39},{"h":26.7,"fcst":-0.376},{"h":29.1,"fcst":-0.245},{"h":31.4,"fcst":-0.065},{"h":33.8,"fcst":0.023},{"h":36.1,"fcst":0.06},{"h":38.1,"fcst":0.04},{"h":40.1,"fcst":-0.033},{"h":42,"fcst":-0.163},{"h":44,"fcst":-0.294},{"h":45.6,"fcst":-0.39},{"h":46.7,"fcst":-0.4},{"h":48.7,"fcst":-0.385},{"h":50.3,"fcst":-0.37},{"h":51.8,"fcst":-0.327},{"h":53.4,"fcst":-0.229},{"h":55,"fcst":-0.13},{"h":56.6,"fcst":-0.033},{"h":58.1,"fcst":0.033},{"h":60.1,"fcst":0.075},{"h":62,"fcst":0.065},{"h":63.6,"fcst":0.033},{"h":65.2,"fcst":-0.05},{"h":67.2,"fcst":-0.18},{"h":69.1,"fcst":-0.31},{"h":70.7,"fcst":-0.38},{"h":72.3,"fcst":-0.39},{"h":73.8,"fcst":-0.36},{"h":76.2,"fcst":-0.304},{"h":78.5,"fcst":-0.229},{"h":80.9,"fcst":-0.13},{"h":83.3,"fcst":-0.04},{"h":85.6,"fcst":0.01},{"h":87.6,"fcst":0.016},{"h":89.2,"fcst":-0.016},{"h":91.1,"fcst":-0.163},{"h":93.1,"fcst":-0.294},{"h":94.3,"fcst":-0.31},{"h":95.8,"fcst":-0.3},{"h":97,"fcst":-0.376},{"h":98.2,"fcst":-0.418},{"h":99.8,"fcst":-0.376},{"h":101.7,"fcst":-0.229},{"h":103.7,"fcst":-0.196},{"h":106,"fcst":-0.13},{"h":108,"fcst":-0.05},
{"h":0.8,"obs":-0.235},{"h":2,"obs":-0.22},{"h":3.9,"obs":-0.147},{"h":5.9,"obs":-0.08},{"h":7.5,"obs":-0.01},{"h":9,"obs":0.13},{"h":11,"obs":0.212},{"h":13.4,"obs":0.22},{"h":14.9,"obs":0.196},{"h":16.5,"obs":0.098},{"h":18.1,"obs":-0.016},{"h":19.6,"obs":-0.114},{"h":20.8,"obs":-0.212},{"h":22,"obs":-0.24},{"h":23.6,"obs":-0.294},{"h":26,"obs":-0.27},{"h":27.5,"obs":-0.212},{"h":29.1,"obs":-0.18},{"h":29.9,"obs":-0.08},{"h":31,"obs":-0.05},{"h":33,"obs":0.065},{"h":35.3,"obs":0.18},{"h":37.3,"obs":0.23},{"h":38.9,"obs":0.212},{"h":40.5,"obs":0.147},{"h":41.6,"obs":0.08},{"h":43.2,"obs":-0.065},{"h":45.2,"obs":-0.18},{"h":47.1,"obs":-0.27},{"h":49.1,"obs":-0.288},{"h":51,"obs":-0.26},{"h":52.6,"obs":-0.212},{"h":54.2,"obs":-0.18},{"h":56.1,"obs":-0.065},{"h":58.1,"obs":0.08},{"h":59.7,"obs":0.13},{"h":60.9,"obs":0.196},{"h":62.8,"obs":0.186},{"h":64.4,"obs":0.13},{"h":66,"obs":0.08},{"h":68.3,"obs":-0.114},{"h":70.3,"obs":-0.212},{"h":71.9,"obs":-0.245},{"h":73,"obs":-0.278},{"h":74.2,"obs":-0.252},{"h":75.8,"obs":-0.245},{"h":77.8,"obs":-0.196},{"h":79.3,"obs":-0.147},{"h":80.9,"obs":-0.033},{"h":82.9,"obs":0.08},{"h":84.5,"obs":0.147},{"h":86,"obs":0.2},{"h":88,"obs":0.212},{"h":90,"obs":0.14},{"h":92,"obs":0},{"h":93.5,"obs":-0.075},{"h":94.7,"obs":-0.114},{"h":95.8,"obs":-0.033},{"h":97,"obs":-0.212},{"h":98.2,"obs":-0.212},{"h":99,"obs":-0.18},{"h":99.9,"obs":-0.26},{"h":101,"obs":-0.186},{"h":102.2,"obs":-0.196},{"h":103.7,"obs":-0.163},{"h":105.3,"obs":-0.1},{"h":106,"obs":-0.072},{"h":107,"obs":0.05},{"h":108,"obs":0.06}],
"p12": [{"h":0.9,"fcst":-0.45},{"h":1.5,"fcst":-0.47},{"h":2.4,"fcst":-0.416},{"h":3.7,"fcst":-0.29},{"h":5.8,"fcst":-0.079},{"h":7.5,"fcst":0.025},{"h":9.2,"fcst":0.104},{"h":10.5,"fcst":0.124},{"h":12.2,"fcst":0.104},{"h":13.9,"fcst":0.076},{"h":16,"fcst":-0.014},{"h":18.1,"fcst":-0.135},{"h":20.3,"fcst":-0.275},{"h":22,"fcst":-0.374},{"h":23.2,"fcst":-0.4},{"h":24.9,"fcst":-0.388},{"h":26.2,"fcst":-0.346},{"h":27.5,"fcst":-0.303},{"h":28.8,"fcst":-0.205},{"h":30.5,"fcst":-0.065},{"h":32.6,"fcst":0.034},{"h":34.7,"fcst":0.09},{"h":36.4,"fcst":0.112},{"h":39,"fcst":0.104},{"h":40.7,"fcst":0.062},{"h":42.8,"fcst":-0.079},{"h":44.9,"fcst":-0.233},{"h":47.1,"fcst":-0.393},{"h":49.2,"fcst":-0.382},{"h":50.9,"fcst":-0.346},{"h":52.2,"fcst":-0.275},{"h":53.9,"fcst":-0.149},{"h":56,"fcst":-0.008},{"h":57.7,"fcst":0.09},{"h":59.4,"fcst":0.146},{"h":61.5,"fcst":0.138},{"h":63.2,"fcst":0.104},{"h":65.4,"fcst":-0.022},{"h":67.5,"fcst":-0.163},{"h":69.6,"fcst":-0.284},{"h":71.3,"fcst":-0.351},{"h":73,"fcst":-0.354},{"h":74.7,"fcst":-0.317},{"h":76.9,"fcst":-0.22},{"h":79,"fcst":-0.093},{"h":81.1,"fcst":0.006},{"h":83.2,"fcst":0.056},{"h":85.8,"fcst":0.09},{"h":87.9,"fcst":0.076},{"h":90.1,"fcst":0.006},{"h":91.8,"fcst":-0.079},{"h":93,"fcst":-0.149},{"h":94.3,"fcst":-0.239},{"h":95.3,"fcst":-0.247},{"h":96,"fcst":-0.323},{"h":96.9,"fcst":-0.29},{"h":97.4,"fcst":-0.323},{"h":98.4,"fcst":-0.368},{"h":99.8,"fcst":-0.29},{"h":101.3,"fcst":-0.205},{"h":102.4,"fcst":-0.2},{"h":104.1,"fcst":-0.171},{"h":105.8,"fcst":-0.12},{"h":107.6,"fcst":-0.084}],
"p13": [{"h":0.8,"fcst":-0.42},{"h":2,"fcst":-0.376},{"h":3.1,"fcst":-0.3},{"h":4.7,"fcst":-0.223},{"h":5.9,"fcst":-0.143},{"h":7.1,"fcst":-0.118},{"h":8.6,"fcst":-0.032},{"h":10.2,"fcst":0.032},{"h":11.8,"fcst":0.07},{"h":13.4,"fcst":0.048},{"h":14.9,"fcst":-0.01},{"h":16.9,"fcst":-0.111},{"h":18.9,"fcst":-0.239},{"h":20.8,"fcst":-0.35},{"h":22.4,"fcst":-0.398},{"h":23.6,"fcst":-0.398},{"h":25.1,"fcst":-0.389},{"h":26.3,"fcst":-0.382},{"h":27.5,"fcst":-0.3},{"h":29.1,"fcst":-0.223},{"h":30.6,"fcst":-0.111},{"h":32.6,"fcst":-0.016},{"h":34.2,"fcst":0.064},{"h":36.1,"fcst":0.111},{"h":38.1,"fcst":0.086},{"h":40.1,"fcst":0.016},{"h":42,"fcst":-0.096},{"h":44.4,"fcst":-0.255},{"h":46.3,"fcst":-0.35},{"h":48,"fcst":-0.382},{"h":49.5,"fcst":-0.389},{"h":51,"fcst":-0.318},{"h":52.6,"fcst":-0.223},{"h":55,"fcst":-0.096},{"h":56.9,"fcst":0.016},{"h":58.9,"fcst":0.08},{"h":61.3,"fcst":0.096},{"h":62.8,"fcst":0.064},{"h":64.8,"fcst":-0.016},{"h":67.2,"fcst":-0.175},{"h":69.1,"fcst":-0.3},{"h":70.7,"fcst":-0.36},{"h":72.3,"fcst":-0.382},{"h":74.6,"fcst":-0.35},{"h":75.8,"fcst":-0.287},{"h":77,"fcst":-0.264},{"h":78.6,"fcst":-0.191},{"h":80.9,"fcst":-0.096},{"h":83.3,"fcst":0.016},{"h":85.2,"fcst":0.054},{"h":86.8,"fcst":0.06},{"h":88.7,"fcst":0},{"h":90.7,"fcst":-0.127},{"h":92.7,"fcst":-0.239},{"h":94.7,"fcst":-0.318},{"h":96.6,"fcst":-0.373},{"h":97.8,"fcst":-0.366},{"h":99,"fcst":-0.318},{"h":100.2,"fcst":-0.309},{"h":102.1,"fcst":-0.239},{"h":104.1,"fcst":-0.16},{"h":106,"fcst":-0.096},{"h":108,"fcst":-0.032},
{"h":0.8,"obs":-0.166},{"h":2,"obs":-0.16},{"h":3.1,"obs":-0.127},{"h":4.3,"obs":-0.08},{"h":5.9,"obs":-0.041},{"h":7.5,"obs":0.016},{"h":9.4,"obs":0.111},{"h":11,"obs":0.197},{"h":12.6,"obs":0.248},{"h":13.7,"obs":0.27},{"h":15.3,"obs":0.248},{"h":17.3,"obs":0.159},{"h":19.2,"obs":0.048},{"h":21.2,"obs":-0.08},{"h":22.9,"obs":-0.175},{"h":23.9,"obs":-0.2},{"h":24.7,"obs":-0.169},{"h":25.9,"obs":-0.223},{"h":27.5,"obs":-0.185},{"h":29.1,"obs":-0.143},{"h":30.2,"obs":-0.08},{"h":32.2,"obs":0},{"h":34.2,"obs":0.105},{"h":36.1,"obs":0.207},{"h":38.9,"obs":0.261},{"h":40.8,"obs":0.223},{"h":42.8,"obs":0.127},{"h":45.1,"obs":0.016},{"h":47.1,"obs":-0.096},{"h":48.7,"obs":-0.185},{"h":50.3,"obs":-0.207},{"h":52.2,"obs":-0.175},{"h":54.2,"obs":-0.127},{"h":56.1,"obs":-0.048},{"h":58.1,"obs":0.048},{"h":60.1,"obs":0.143},{"h":62,"obs":0.239},{"h":64,"obs":0.261},{"h":65.6,"obs":0.223},{"h":67.5,"obs":0.127},{"h":69.5,"obs":0.032},{"h":71.5,"obs":-0.064},{"h":73,"obs":-0.143},{"h":75,"obs":-0.191},{"h":77,"obs":-0.153},{"h":78.9,"obs":-0.096},{"h":80.9,"obs":0.016},{"h":82.9,"obs":0.096},{"h":84.5,"obs":0.159},{"h":86.4,"obs":0.223},{"h":88.7,"obs":0.28},{"h":90.3,"obs":0.239},{"h":91.9,"obs":0.143},{"h":93.8,"obs":0.08},{"h":95,"obs":0.032},{"h":95.8,"obs":-0.048},{"h":97,"obs":-0.048},{"h":98.2,"obs":-0.064},{"h":99.9,"obs":-0.191},{"h":101.7,"obs":-0.127},{"h":103.7,"obs":-0.08},{"h":104.9,"obs":-0.057},{"h":106,"obs":0.016},{"h":108,"obs":0.086}],
"p14": [{"h":1,"fcst":-0.37},{"h":2.2,"fcst":-0.336},{"h":3.4,"fcst":-0.257},{"h":4.6,"fcst":-0.205},{"h":6.1,"fcst":-0.12},{"h":7.3,"fcst":-0.017},{"h":9.3,"fcst":0.086},{"h":11.6,"fcst":0.092},{"h":13.2,"fcst":0.051},{"h":15.6,"fcst":-0.068},{"h":17.9,"fcst":-0.29},{"h":19.9,"fcst":-0.41},{"h":21.5,"fcst":-0.428},{"h":23,"fcst":-0.41},{"h":24.2,"fcst":-0.4},{"h":25.4,"fcst":-0.418},{"h":26.9,"fcst":-0.325},{"h":28.1,"fcst":-0.171},{"h":29.7,"fcst":-0.103},{"h":30.9,"fcst":-0.068},{"h":32.4,"fcst":0.086},{"h":34,"fcst":0.103},{"h":36,"fcst":0.12},{"h":37.5,"fcst":0.086},{"h":39.9,"fcst":-0.051},{"h":41.5,"fcst":-0.205},{"h":43,"fcst":-0.325},{"h":45,"fcst":-0.4},{"h":46.6,"fcst":-0.377},{"h":49.3,"fcst":-0.36},{"h":50.5,"fcst":-0.29},{"h":51.7,"fcst":-0.188},{"h":52.9,"fcst":-0.16},{"h":54.1,"fcst":-0.171},{"h":55.6,"fcst":-0.068},{"h":56.4,"fcst":0.068},{"h":58,"fcst":0.103},{"h":60,"fcst":0.103},{"h":61.1,"fcst":0.13},{"h":62.7,"fcst":0.12},{"h":64.3,"fcst":0.051},{"h":65.8,"fcst":-0.086},{"h":68.2,"fcst":-0.24},{"h":70.1,"fcst":-0.387},{"h":71.7,"fcst":-0.377},{"h":73.2,"fcst":-0.366},{"h":74.9,"fcst":-0.342},{"h":76,"fcst":-0.24},{"h":77.6,"fcst":-0.199},{"h":79.2,"fcst":-0.154},{"h":80.8,"fcst":-0.086},{"h":82.3,"fcst":0.017},{"h":84.3,"fcst":0.086},{"h":85.9,"fcst":0.11},{"h":87.8,"fcst":0.086},{"h":89,"fcst":0.034},{"h":90.6,"fcst":-0.12},{"h":92.5,"fcst":-0.24},{"h":94.5,"fcst":-0.308},{"h":95.7,"fcst":-0.325},{"h":96.5,"fcst":-0.318},{"h":97.3,"fcst":-0.336},{"h":98.4,"fcst":-0.318},{"h":99.6,"fcst":-0.257},{"h":101.2,"fcst":-0.223},{"h":103.1,"fcst":-0.171},{"h":104.7,"fcst":-0.12},{"h":105.9,"fcst":-0.068},{"h":107.1,"fcst":-0.034},{"h":108.1,"fcst":0.051},
{"h":1,"obs":-0.2},{"h":2.2,"obs":-0.154},{"h":3.4,"obs":-0.103},{"h":4.6,"obs":-0.058},{"h":5.3,"obs":0},{"h":6.1,"obs":0.103},{"h":7.1,"obs":0.205},{"h":8.5,"obs":0.23},{"h":10.1,"obs":0.24},{"h":11.8,"obs":0.298},{"h":14,"obs":0.233},{"h":15.9,"obs":0.103},{"h":17.5,"obs":-0.034},{"h":18.7,"obs":-0.137},{"h":20.3,"obs":-0.205},{"h":21.8,"obs":-0.284},{"h":24.2,"obs":-0.274},{"h":25.7,"obs":-0.223},{"h":26.9,"obs":-0.16},{"h":28.1,"obs":-0.154},{"h":29.3,"obs":-0.068},{"h":30.9,"obs":0.086},{"h":32.4,"obs":0.147},{"h":34,"obs":0.199},{"h":35.2,"obs":0.298},{"h":36.8,"obs":0.274},{"h":38.7,"obs":0.188},{"h":40.7,"obs":0.051},{"h":42.3,"obs":-0.103},{"h":43.8,"obs":-0.188},{"h":45,"obs":-0.257},{"h":47.8,"obs":-0.257},{"h":49.7,"obs":-0.257},{"h":51.7,"obs":-0.137},{"h":53.3,"obs":-0.086},{"h":54.8,"obs":-0.034},{"h":56.4,"obs":0.086},{"h":58,"obs":0.188},{"h":59.2,"obs":0.274},{"h":60.7,"obs":0.298},{"h":62.7,"obs":0.257},{"h":64.3,"obs":0.171},{"h":65.8,"obs":0.051},{"h":68.2,"obs":-0.12},{"h":69.4,"obs":-0.205},{"h":71,"obs":-0.223},{"h":72.9,"obs":-0.23},{"h":74.1,"obs":-0.247},{"h":75.3,"obs":-0.223},{"h":76.9,"obs":-0.137},{"h":78.4,"obs":-0.086},{"h":79.6,"obs":-0.027},{"h":80.8,"obs":0.034},{"h":82.7,"obs":0.137},{"h":83.9,"obs":0.205},{"h":85.5,"obs":0.308},{"h":86.6,"obs":0.308},{"h":87.8,"obs":0.267},{"h":89.4,"obs":0.223},{"h":91,"obs":0.051},{"h":92.1,"obs":-0.096},{"h":93.7,"obs":-0.137},{"h":95.3,"obs":-0.171},{"h":96.5,"obs":-0.137},{"h":97.3,"obs":-0.171},{"h":98,"obs":-0.274},{"h":99.6,"obs":-0.171},{"h":101.2,"obs":-0.041},{"h":102.7,"obs":-0.051},{"h":103.9,"obs":-0.058},{"h":105.9,"obs":0.068},{"h":107.3,"obs":0.178},{"h":108.1,"obs":0.205}],
"p15": [{"h":0.8,"fcst":-0.374},{"h":2.4,"fcst":-0.338},{"h":4.3,"fcst":-0.254},{"h":6.3,"fcst":-0.15},{"h":8.2,"fcst":-0.045},{"h":9.8,"fcst":0.045},{"h":11,"fcst":0.09},{"h":12.6,"fcst":0.099},{"h":14.1,"fcst":0.084},{"h":16.1,"fcst":-0.03},{"h":18.1,"fcst":-0.165},{"h":20,"fcst":-0.3},{"h":21.6,"fcst":-0.374},{"h":22.8,"fcst":-0.404},{"h":24.4,"fcst":-0.389},{"h":25.5,"fcst":-0.404},{"h":26.7,"fcst":-0.374},{"h":27.9,"fcst":-0.254},{"h":29.1,"fcst":-0.165},{"h":30.6,"fcst":-0.12},{"h":32.2,"fcst":0},{"h":34.2,"fcst":0.096},{"h":36.5,"fcst":0.12},{"h":38.5,"fcst":0.105},{"h":40.5,"fcst":0},{"h":42.4,"fcst":-0.135},{"h":44.4,"fcst":-0.254},{"h":46.3,"fcst":-0.353},{"h":47.5,"fcst":-0.36},{"h":48.7,"fcst":-0.338},{"h":50.7,"fcst":-0.33},{"h":52.2,"fcst":-0.27},{"h":53.4,"fcst":-0.165},{"h":55,"fcst":-0.15},{"h":56.2,"fcst":-0.075},{"h":57.3,"fcst":0.03},{"h":59.3,"fcst":0.105},{"h":61.3,"fcst":0.135},{"h":63.2,"fcst":0.105},{"h":64.8,"fcst":0.015},{"h":66.8,"fcst":-0.135},{"h":68.7,"fcst":-0.24},{"h":70.7,"fcst":-0.344},{"h":72.3,"fcst":-0.353},{"h":73.8,"fcst":-0.338},{"h":75.4,"fcst":-0.33},{"h":77,"fcst":-0.225},{"h":79,"fcst":-0.165},{"h":80.9,"fcst":-0.06},{"h":83.3,"fcst":0.045},{"h":85.6,"fcst":0.111},{"h":87.6,"fcst":0.09},{"h":89.2,"fcst":0.015},{"h":91.1,"fcst":-0.12},{"h":93.1,"fcst":-0.24},{"h":94.7,"fcst":-0.29},{"h":96.6,"fcst":-0.29},{"h":98.2,"fcst":-0.308},{"h":100.2,"fcst":-0.24},{"h":102.5,"fcst":-0.18},{"h":104.5,"fcst":-0.06},{"h":106.8,"fcst":-0.03},{"h":108,"fcst":0.01},
{"h":0.8,"obs":-0.26},{"h":2,"obs":-0.254},{"h":3.9,"obs":-0.135},{"h":5.1,"obs":-0.105},{"h":7.1,"obs":0.039},{"h":8.6,"obs":0.09},{"h":10.2,"obs":0.159},{"h":11,"obs":0.18},{"h":11.9,"obs":0.246},{"h":13.4,"obs":0.225},{"h":14.9,"obs":0.171},{"h":16.5,"obs":0.06},{"h":18.5,"obs":-0.075},{"h":20.4,"obs":-0.195},{"h":22.4,"obs":-0.284},{"h":24,"obs":-0.335},{"h":25.1,"obs":-0.335},{"h":26.7,"obs":-0.278},{"h":28.3,"obs":-0.219},{"h":29.5,"obs":-0.15},{"h":30.6,"obs":-0.045},{"h":32.2,"obs":0.03},{"h":33.8,"obs":0.105},{"h":35.7,"obs":0.216},{"h":37.7,"obs":0.225},{"h":39.7,"obs":0.165},{"h":41.6,"obs":0.045},{"h":43.6,"obs":-0.12},{"h":45.2,"obs":-0.219},{"h":47.1,"obs":-0.314},{"h":48.7,"obs":-0.32},{"h":50.7,"obs":-0.284},{"h":52.6,"obs":-0.18},{"h":54.6,"obs":-0.09},{"h":56.6,"obs":0.03},{"h":58.5,"obs":0.15},{"h":60.1,"obs":0.21},{"h":61.7,"obs":0.225},{"h":63.2,"obs":0.195},{"h":64.8,"obs":0.135},{"h":66.8,"obs":0},{"h":68.7,"obs":-0.165},{"h":70.7,"obs":-0.254},{"h":72.7,"obs":-0.3},{"h":74.2,"obs":-0.278},{"h":76.2,"obs":-0.21},{"h":78.2,"obs":-0.12},{"h":80.1,"obs":-0.045},{"h":81.3,"obs":0.03},{"h":82.1,"obs":0.051},{"h":84,"obs":0.165},{"h":86,"obs":0.246},{"h":87.6,"obs":0.24},{"h":89.2,"obs":0.21},{"h":90.7,"obs":0.105},{"h":92.7,"obs":-0.045},{"h":94.7,"obs":-0.18},{"h":95.8,"obs":-0.21},{"h":97,"obs":-0.21},{"h":98.6,"obs":-0.254},{"h":99.8,"obs":-0.24},{"h":100.9,"obs":-0.195},{"h":102.1,"obs":-0.135},{"h":102.9,"obs":-0.144},{"h":104.1,"obs":-0.081},{"h":105.7,"obs":-0.015},{"h":108,"obs":0.09}],
"p16": [{"h":1,"fcst":-0.387},{"h":3,"fcst":-0.397},{"h":5,"fcst":-0.348},{"h":6.5,"fcst":-0.139},{"h":8.1,"fcst":0.006},{"h":9.7,"fcst":0.087},{"h":11,"fcst":0.113},{"h":12.8,"fcst":0.071},{"h":14.7,"fcst":0.006},{"h":16.3,"fcst":-0.032},{"h":17.9,"fcst":-0.042},{"h":19.8,"fcst":-0.074},{"h":21.5,"fcst":-0.155},{"h":23.4,"fcst":-0.284},{"h":25.4,"fcst":-0.371},{"h":27.3,"fcst":-0.403},{"h":28.9,"fcst":-0.358},{"h":30.5,"fcst":-0.171},{"h":32.4,"fcst":0.006},{"h":34.4,"fcst":0.119},{"h":36.4,"fcst":0.152},{"h":38.3,"fcst":0.087},{"h":40.3,"fcst":0.023},{"h":41.8,"fcst":-0.01},{"h":44.2,"fcst":-0.01},{"h":45.8,"fcst":-0.058},{"h":47.4,"fcst":-0.171},{"h":49.3,"fcst":-0.284},{"h":50.9,"fcst":-0.332},{"h":52.1,"fcst":-0.348},{"h":53.3,"fcst":-0.3},{"h":55.2,"fcst":-0.106},{"h":57.2,"fcst":0.087},{"h":59.2,"fcst":0.177},{"h":60.7,"fcst":0.19},{"h":62.3,"fcst":0.119},{"h":64.3,"fcst":0.039},{"h":66.2,"fcst":-0.003},{"h":68.2,"fcst":-0.01},{"h":70.1,"fcst":-0.026},{"h":71.7,"fcst":-0.106},{"h":74.1,"fcst":-0.252},{"h":76,"fcst":-0.342},{"h":77.6,"fcst":-0.339},{"h":79.2,"fcst":-0.268},{"h":81.1,"fcst":-0.074},{"h":82.7,"fcst":0.087},{"h":84.3,"fcst":0.152},{"h":85.8,"fcst":0.119},{"h":87.8,"fcst":0.039},{"h":90.1,"fcst":-0.048},{"h":92.1,"fcst":-0.019},{"h":94,"fcst":0.023},{"h":95.7,"fcst":-0.01},{"h":97.2,"fcst":-0.106},{"h":99.2,"fcst":-0.235},{"h":101.2,"fcst":-0.316},{"h":102.7,"fcst":-0.316},{"h":104.3,"fcst":-0.219},{"h":106.3,"fcst":-0.058},{"h":108.1,"fcst":0.077},
{"h":1,"obs":-0.323},{"h":2,"obs":-0.306},{"h":3.4,"obs":-0.187},{"h":5,"obs":-0.058},{"h":6.5,"obs":0.152},{"h":7.9,"obs":0.242},{"h":9.3,"obs":0.281},{"h":10.8,"obs":0.216},{"h":12.8,"obs":0.168},{"h":14.3,"obs":0.216},{"h":15.9,"obs":0.258},{"h":17.9,"obs":0.216},{"h":19.8,"obs":0.119},{"h":21.8,"obs":-0.106},{"h":23.4,"obs":-0.268},{"h":25,"obs":-0.348},{"h":26.9,"obs":-0.348},{"h":28.1,"obs":-0.268},{"h":29.7,"obs":-0.106},{"h":31.2,"obs":0.071},{"h":32.8,"obs":0.216},{"h":34.4,"obs":0.2},{"h":36.4,"obs":0.161},{"h":37.5,"obs":0.152},{"h":39.9,"obs":0.248},{"h":42.6,"obs":0.239},{"h":44.6,"obs":0.119},{"h":46.6,"obs":-0.09},{"h":48.5,"obs":-0.3},{"h":50.1,"obs":-0.348},{"h":51.7,"obs":-0.332},{"h":53.3,"obs":-0.155},{"h":54.8,"obs":0.023},{"h":56.8,"obs":0.184},{"h":58.7,"obs":0.242},{"h":60.7,"obs":0.206},{"h":62.3,"obs":0.158},{"h":64.3,"obs":0.2},{"h":65.8,"obs":0.281},{"h":67,"obs":0.303},{"h":69,"obs":0.184},{"h":71,"obs":-0.042},{"h":72.9,"obs":-0.252},{"h":74.9,"obs":-0.326},{"h":76.4,"obs":-0.252},{"h":78,"obs":-0.042},{"h":80,"obs":0.152},{"h":81.5,"obs":0.232},{"h":83.1,"obs":0.242},{"h":84.7,"obs":0.168},{"h":86.3,"obs":0.158},{"h":88.2,"obs":0.184},{"h":89.8,"obs":0.297},{"h":91.4,"obs":0.287},{"h":93.3,"obs":0.152},{"h":95.3,"obs":-0.042},{"h":96.8,"obs":-0.155},{"h":98,"obs":-0.252},{"h":99.6,"obs":-0.277},{"h":101.2,"obs":-0.235},{"h":102.4,"obs":-0.155},{"h":103.5,"obs":0.055},{"h":104.7,"obs":0.174},{"h":106.3,"obs":0.216},{"h":108.1,"obs":0.168}],
"p17": [{"h":0.8,"fcst":-0.41},{"h":2.7,"fcst":-0.03},{"h":4.7,"fcst":0.24},{"h":6.3,"fcst":0.24},{"h":8.2,"fcst":0.08},{"h":9.8,"fcst":-0.04},{"h":11,"fcst":-0.1},{"h":13,"fcst":-0.03},{"h":14.9,"fcst":0.11},{"h":16.5,"fcst":0.18},{"h":18.1,"fcst":0.08},{"h":19.6,"fcst":-0.2},{"h":21.2,"fcst":-0.55},{"h":23.2,"fcst":-0.8},{"h":24.7,"fcst":-0.66},{"h":26.3,"fcst":-0.34},{"h":28.3,"fcst":0.04},{"h":30.2,"fcst":0.3},{"h":31.8,"fcst":0.22},{"h":33.4,"fcst":-0.03},{"h":35.3,"fcst":-0.11},{"h":37.3,"fcst":0.04},{"h":38.9,"fcst":0.18},{"h":40.5,"fcst":0.27},{"h":42,"fcst":0.13},{"h":44,"fcst":-0.24},{"h":46,"fcst":-0.59},{"h":47.5,"fcst":-0.71},{"h":49.1,"fcst":-0.55},{"h":50.7,"fcst":-0.17},{"h":52.6,"fcst":0.32},{"h":54.6,"fcst":0.41},{"h":56.6,"fcst":0.22},{"h":58.5,"fcst":-0.06},{"h":60.5,"fcst":-0.13},{"h":62,"fcst":-0.03},{"h":64,"fcst":0.25},{"h":65.6,"fcst":0.36},{"h":67.2,"fcst":0.22},{"h":69.1,"fcst":-0.17},{"h":70.7,"fcst":-0.55},{"h":72.3,"fcst":-0.73},{"h":73.8,"fcst":-0.66},{"h":75.8,"fcst":-0.1},{"h":77.4,"fcst":0.25},{"h":79,"fcst":0.36},{"h":80.9,"fcst":0.25},{"h":82.9,"fcst":-0.03},{"h":84.9,"fcst":-0.18},{"h":86.4,"fcst":-0.1},{"h":88.4,"fcst":0.18},{"h":90,"fcst":0.37},{"h":91.9,"fcst":0.22},{"h":93.9,"fcst":-0.2},{"h":95.5,"fcst":-0.62},{"h":97,"fcst":-0.82},{"h":98.6,"fcst":-0.66},{"h":100.5,"fcst":-0.1},{"h":102.1,"fcst":0.29},{"h":103.8,"fcst":0.39},{"h":105.3,"fcst":0.18},{"h":106.8,"fcst":-0.03},{"h":108,"fcst":-0.22},
{"h":0.8,"obs":-0.22},{"h":2.4,"obs":0.11},{"h":3.9,"obs":0.32},{"h":5.1,"obs":0.36},{"h":6.7,"obs":0.25},{"h":8.2,"obs":0.08},{"h":9.8,"obs":0.02},{"h":11.4,"obs":0.08},{"h":13,"obs":0.29},{"h":14.9,"obs":0.5},{"h":16.5,"obs":0.43},{"h":18.1,"obs":0.15},{"h":20,"obs":-0.27},{"h":22,"obs":-0.62},{"h":23.2,"obs":-0.67},{"h":24.4,"obs":-0.59},{"h":25.9,"obs":-0.31},{"h":27.9,"obs":0.04},{"h":29.5,"obs":0.25},{"h":30.6,"obs":0.22},{"h":32,"obs":0.06},{"h":33.8,"obs":-0.03},{"h":35.3,"obs":-0.03},{"h":36.5,"obs":0.08},{"h":38.1,"obs":0.36},{"h":39.7,"obs":0.57},{"h":41.2,"obs":0.46},{"h":43.2,"obs":0.04},{"h":45.2,"obs":-0.38},{"h":47.1,"obs":-0.69},{"h":48.7,"obs":-0.59},{"h":50.7,"obs":-0.1},{"h":52.6,"obs":0.29},{"h":54.2,"obs":0.41},{"h":56.2,"obs":0.18},{"h":57.7,"obs":-0.01},{"h":59.3,"obs":-0.13},{"h":60.9,"obs":0.01},{"h":62.8,"obs":0.46},{"h":64.8,"obs":0.71},{"h":67.2,"obs":0.45},{"h":69.1,"obs":-0.1},{"h":70.7,"obs":-0.52},{"h":72.3,"obs":-0.67},{"h":73.8,"obs":-0.52},{"h":75.8,"obs":-0.03},{"h":77.4,"obs":0.29},{"h":79,"obs":0.45},{"h":80.9,"obs":0.29},{"h":82.9,"obs":0.01},{"h":84.2,"obs":-0.1},{"h":86,"obs":0.04},{"h":87.6,"obs":0.46},{"h":89.5,"obs":0.66},{"h":91.1,"obs":0.5},{"h":93.1,"obs":-0.03},{"h":95,"obs":-0.45},{"h":96.6,"obs":-0.69},{"h":98.2,"obs":-0.59},{"h":99.7,"obs":-0.24},{"h":101.3,"obs":0.25},{"h":102.9,"obs":0.52},{"h":104.5,"obs":0.41},{"h":106,"obs":0.15},{"h":108,"obs":-0.24}],
"p18": [{"h":1,"fcst":-0.2},{"h":2.2,"fcst":-0.064},{"h":3.1,"fcst":0.043},{"h":3.9,"fcst":0.059},{"h":5,"fcst":-0.027},{"h":6.5,"fcst":-0.027},{"h":8.1,"fcst":-0.027},{"h":10.1,"fcst":0.005},{"h":11.6,"fcst":0.053},{"h":13.6,"fcst":0.123},{"h":14.8,"fcst":0.134},{"h":16.7,"fcst":0.059},{"h":18.3,"fcst":-0.144},{"h":20.3,"fcst":-0.465},{"h":22,"fcst":-0.642},{"h":23.4,"fcst":-0.519},{"h":25,"fcst":-0.278},{"h":26.6,"fcst":-0.037},{"h":28.1,"fcst":0.107},{"h":29.7,"fcst":0.027},{"h":31.7,"fcst":-0.037},{"h":33.6,"fcst":0.016},{"h":35.6,"fcst":0.096},{"h":37.5,"fcst":0.176},{"h":39.1,"fcst":0.203},{"h":40.7,"fcst":0.134},{"h":42.6,"fcst":-0.144},{"h":44.6,"fcst":-0.412},{"h":46.6,"fcst":-0.572},{"h":47.8,"fcst":-0.545},{"h":49.3,"fcst":-0.305},{"h":50.9,"fcst":0.016},{"h":52.9,"fcst":0.176},{"h":54.8,"fcst":0.123},{"h":56.8,"fcst":0},{"h":58.7,"fcst":-0.011},{"h":60.7,"fcst":0.096},{"h":62.3,"fcst":0.176},{"h":63.8,"fcst":0.3},{"h":65.8,"fcst":0.123},{"h":67.8,"fcst":-0.251},{"h":69.8,"fcst":-0.519},{"h":71.1,"fcst":-0.572},{"h":72.9,"fcst":-0.465},{"h":74.9,"fcst":-0.144},{"h":76.8,"fcst":0.096},{"h":78,"fcst":0.176},{"h":80,"fcst":0.07},{"h":81.9,"fcst":-0.037},{"h":83.9,"fcst":-0.037},{"h":85.5,"fcst":0.043},{"h":87,"fcst":0.203},{"h":88.6,"fcst":0.241},{"h":90.2,"fcst":0.123},{"h":92.1,"fcst":-0.251},{"h":94.1,"fcst":-0.6},{"h":95.7,"fcst":-0.615},{"h":96.8,"fcst":-0.572},{"h":98.8,"fcst":-0.251},{"h":100.8,"fcst":0.096},{"h":101.9,"fcst":0.176},{"h":103.5,"fcst":0.08},{"h":105.1,"fcst":-0.037},{"h":106.7,"fcst":-0.118},{"h":108.1,"fcst":-0.107},
{"h":1,"obs":0},{"h":2.2,"obs":0.096},{"h":3.4,"obs":0.134},{"h":4.6,"obs":0.08},{"h":6.5,"obs":0.07},{"h":7.3,"obs":0.043},{"h":8.1,"obs":0.15},{"h":10.1,"obs":0.214},{"h":11.2,"obs":0.337},{"h":13.2,"obs":0.417},{"h":14.8,"obs":0.353},{"h":16,"obs":0.257},{"h":17.9,"obs":-0.091},{"h":19.9,"obs":-0.465},{"h":21.7,"obs":-0.476},{"h":23.8,"obs":-0.198},{"h":25,"obs":-0.037},{"h":26.2,"obs":0.043},{"h":27.3,"obs":0.053},{"h":28.8,"obs":0.112},{"h":30.1,"obs":0.027},{"h":31.7,"obs":-0.027},{"h":33.2,"obs":0.07},{"h":34.4,"obs":0.203},{"h":36,"obs":0.364},{"h":37.5,"obs":0.444},{"h":39.1,"obs":0.364},{"h":40.7,"obs":0.176},{"h":42.3,"obs":-0.091},{"h":43.8,"obs":-0.305},{"h":45.4,"obs":-0.492},{"h":47,"obs":-0.439},{"h":48.5,"obs":-0.198},{"h":50.1,"obs":-0.037},{"h":50.9,"obs":0.15},{"h":52.5,"obs":0.15},{"h":54,"obs":0.08},{"h":55.6,"obs":0.016},{"h":57.2,"obs":-0.011},{"h":58.7,"obs":0.123},{"h":60.4,"obs":0.273},{"h":61.9,"obs":0.471},{"h":63.5,"obs":0.524},{"h":65,"obs":0.444},{"h":67,"obs":0.123},{"h":69,"obs":-0.251},{"h":70.1,"obs":-0.492},{"h":71.7,"obs":-0.305},{"h":73.7,"obs":-0.037},{"h":75.2,"obs":0.123},{"h":76.8,"obs":0.16},{"h":78.4,"obs":0.15},{"h":80.4,"obs":0.043},{"h":81.9,"obs":-0.037},{"h":83.5,"obs":0.016},{"h":85.1,"obs":0.283},{"h":87,"obs":0.497},{"h":88.2,"obs":0.444},{"h":90.2,"obs":0.15},{"h":92.1,"obs":-0.251},{"h":94.1,"obs":-0.465},{"h":95.3,"obs":-0.481},{"h":96.5,"obs":-0.412},{"h":98,"obs":-0.118},{"h":100,"obs":0.203},{"h":101.6,"obs":0.23},{"h":102.7,"obs":0.123},{"h":104.3,"obs":-0.027},{"h":105.9,"obs":-0.118},{"h":107.1,"obs":-0.091},{"h":108.1,"obs":0.043}],
"p19": [{"h":0.8,"fcst":-0.476},{"h":2.7,"fcst":-0.31},{"h":4.7,"fcst":-0.105},{"h":6.7,"fcst":-0.038},{"h":8.6,"fcst":0},{"h":10.6,"fcst":0.038},{"h":13,"fcst":0.071},{"h":15.3,"fcst":0.095},{"h":16.9,"fcst":0.071},{"h":18.9,"fcst":-0.071},{"h":20.8,"fcst":-0.286},{"h":22.8,"fcst":-0.476},{"h":24,"fcst":-0.548},{"h":25.1,"fcst":-0.5},{"h":27.1,"fcst":-0.31},{"h":29.1,"fcst":-0.143},{"h":31,"fcst":0},{"h":33,"fcst":0.038},{"h":35.3,"fcst":0.105},{"h":37.7,"fcst":0.167},{"h":40,"fcst":0.176},{"h":42,"fcst":0.095},{"h":44,"fcst":-0.095},{"h":46,"fcst":-0.31},{"h":48,"fcst":-0.452},{"h":49.1,"fcst":-0.43},{"h":51,"fcst":-0.262},{"h":53,"fcst":-0.095},{"h":55,"fcst":0.071},{"h":56.9,"fcst":0.095},{"h":58.9,"fcst":0.081},{"h":60.9,"fcst":0.095},{"h":62.8,"fcst":0.167},{"h":64.8,"fcst":0.238},{"h":66.8,"fcst":0.19},{"h":68.7,"fcst":-0.048},{"h":70.7,"fcst":-0.262},{"h":72.7,"fcst":-0.405},{"h":73.8,"fcst":-0.419},{"h":75.4,"fcst":-0.333},{"h":77.4,"fcst":-0.143},{"h":79.3,"fcst":0.024},{"h":81.3,"fcst":0.033},{"h":83.3,"fcst":0},{"h":85.2,"fcst":0.014},{"h":87.6,"fcst":0.095},{"h":89.9,"fcst":0.167},{"h":91.9,"fcst":0.071},{"h":93.9,"fcst":-0.19},{"h":95.8,"fcst":-0.405},{"h":97.4,"fcst":-0.476},{"h":98.6,"fcst":-0.452},{"h":100.5,"fcst":-0.238},{"h":102.5,"fcst":-0.024},{"h":104.1,"fcst":0.01},{"h":106,"fcst":-0.01},{"h":108,"fcst":-0.048},
{"h":0.8,"obs":-0.262},{"h":2.4,"obs":-0.095},{"h":3.9,"obs":0.048},{"h":5.5,"obs":0.119},{"h":7.1,"obs":0.129},{"h":8.6,"obs":0.157},{"h":10.6,"obs":0.205},{"h":12.6,"obs":0.286},{"h":14.1,"obs":0.357},{"h":15.7,"obs":0.381},{"h":16.9,"obs":0.333},{"h":18.5,"obs":0.19},{"h":20.4,"obs":-0.095},{"h":22.4,"obs":-0.333},{"h":23.6,"obs":-0.405},{"h":24.7,"obs":-0.381},{"h":26.7,"obs":-0.214},{"h":28.7,"obs":-0.024},{"h":30.6,"obs":0.086},{"h":32.2,"obs":0.095},{"h":33.8,"obs":0.133},{"h":34.9,"obs":0.167},{"h":36.1,"obs":0.262},{"h":37.3,"obs":0.357},{"h":38.9,"obs":0.419},{"h":40.5,"obs":0.405},{"h":42,"obs":0.31},{"h":44,"obs":0.048},{"h":46,"obs":-0.214},{"h":47.8,"obs":-0.405},{"h":49.1,"obs":-0.348},{"h":51,"obs":-0.19},{"h":53,"obs":0.024},{"h":55,"obs":0.129},{"h":56.9,"obs":0.11},{"h":58.9,"obs":0.119},{"h":60.5,"obs":0.19},{"h":62.4,"obs":0.357},{"h":64.4,"obs":0.486},{"h":66.4,"obs":0.405},{"h":67.9,"obs":0.286},{"h":69.9,"obs":-0.048},{"h":71.5,"obs":-0.238},{"h":73,"obs":-0.333},{"h":74.6,"obs":-0.262},{"h":76.6,"obs":-0.095},{"h":78.5,"obs":0.048},{"h":80.1,"obs":0.095},{"h":82.1,"obs":0.071},{"h":84,"obs":0.086},{"h":86,"obs":0.214},{"h":88,"obs":0.357},{"h":89.5,"obs":0.443},{"h":91.9,"obs":0.31},{"h":93.9,"obs":-0.024},{"h":95.4,"obs":-0.238},{"h":97,"obs":-0.333},{"h":98.2,"obs":-0.319},{"h":99.7,"obs":-0.143},{"h":101.7,"obs":0.048},{"h":102.9,"obs":0.129},{"h":104.5,"obs":0.119},{"h":106,"obs":0.071},{"h":108,"obs":0}],
"p20": [{"h":1,"fcst":-0.39},{"h":2.6,"fcst":-0.257},{"h":4.6,"fcst":-0.08},{"h":6.5,"fcst":-0.049},{"h":8.5,"fcst":-0.013},{"h":10.8,"fcst":0.053},{"h":13.2,"fcst":0.084},{"h":15.2,"fcst":0.097},{"h":16.7,"fcst":0.075},{"h":18.7,"fcst":-0.058},{"h":20.6,"fcst":-0.257},{"h":22.6,"fcst":-0.42},{"h":24,"fcst":-0.522},{"h":25.4,"fcst":-0.478},{"h":27.3,"fcst":-0.279},{"h":29.3,"fcst":-0.102},{"h":30.9,"fcst":0},{"h":33.2,"fcst":0.009},{"h":36,"fcst":0.084},{"h":38.3,"fcst":0.15},{"h":40.3,"fcst":0.173},{"h":41.8,"fcst":0.119},{"h":43.8,"fcst":-0.058},{"h":46.1,"fcst":-0.323},{"h":47.9,"fcst":-0.491},{"h":49.3,"fcst":-0.434},{"h":51.3,"fcst":-0.235},{"h":53.3,"fcst":-0.013},{"h":54.8,"fcst":0.075},{"h":56.8,"fcst":0.066},{"h":58.7,"fcst":0.053},{"h":60.7,"fcst":0.084},{"h":62.3,"fcst":0.142},{"h":64.1,"fcst":0.217},{"h":65.8,"fcst":0.164},{"h":67.4,"fcst":0.119},{"h":69.3,"fcst":-0.102},{"h":71.3,"fcst":-0.323},{"h":72.5,"fcst":-0.434},{"h":73.7,"fcst":-0.42},{"h":75.6,"fcst":-0.235},{"h":77.6,"fcst":-0.058},{"h":79.2,"fcst":0.018},{"h":81.5,"fcst":-0.004},{"h":83.5,"fcst":-0.013},{"h":85.5,"fcst":0.031},{"h":87.4,"fcst":0.119},{"h":89.4,"fcst":0.164},{"h":91,"fcst":0.097},{"h":92.9,"fcst":-0.124},{"h":94.9,"fcst":-0.367},{"h":96.5,"fcst":-0.456},{"h":97.6,"fcst":-0.465},{"h":99.2,"fcst":-0.345},{"h":101.6,"fcst":-0.102},{"h":103.5,"fcst":-0.013},{"h":105.5,"fcst":-0.027},{"h":108.1,"fcst":-0.08},
{"h":1,"obs":-0.168},{"h":2.6,"obs":-0.058},{"h":4.2,"obs":0.044},{"h":5.7,"obs":0.084},{"h":8.1,"obs":0.119},{"h":10.5,"obs":0.186},{"h":12.8,"obs":0.319},{"h":14.8,"obs":0.35},{"h":16.3,"obs":0.319},{"h":17.9,"obs":0.164},{"h":19.9,"obs":-0.102},{"h":21.8,"obs":-0.323},{"h":23.4,"obs":-0.39},{"h":25,"obs":-0.323},{"h":26.9,"obs":-0.146},{"h":28.9,"obs":0.009},{"h":30.5,"obs":0.053},{"h":32,"obs":0.031},{"h":34,"obs":0.119},{"h":36,"obs":0.274},{"h":37.5,"obs":0.341},{"h":39.1,"obs":0.407},{"h":41.1,"obs":0.327},{"h":43,"obs":0.097},{"h":45.4,"obs":-0.212},{"h":47.3,"obs":-0.345},{"h":49.3,"obs":-0.257},{"h":50.9,"obs":-0.124},{"h":52.9,"obs":0.031},{"h":54.4,"obs":0.084},{"h":56,"obs":0.084},{"h":57.6,"obs":0.053},{"h":59.2,"obs":0.075},{"h":61.1,"obs":0.208},{"h":62.7,"obs":0.363},{"h":64.3,"obs":0.451},{"h":65,"obs":0.438},{"h":66.6,"obs":0.274},{"h":69,"obs":-0.058},{"h":70.9,"obs":-0.257},{"h":72.5,"obs":-0.323},{"h":74.1,"obs":-0.257},{"h":76,"obs":-0.102},{"h":78,"obs":0.053},{"h":80,"obs":0.062},{"h":81.9,"obs":0.053},{"h":83.5,"obs":0.075},{"h":85.5,"obs":0.186},{"h":87.4,"obs":0.341},{"h":89,"obs":0.416},{"h":90.6,"obs":0.341},{"h":92.5,"obs":0.075},{"h":94.5,"obs":-0.19},{"h":96.1,"obs":-0.31},{"h":97.2,"obs":-0.323},{"h":98.8,"obs":-0.19},{"h":100.4,"obs":-0.058},{"h":101.9,"obs":0.075},{"h":102.9,"obs":0.111},{"h":104.3,"obs":0.031},{"h":105.9,"obs":0.009},{"h":107.1,"obs":-0.004},{"h":108.1,"obs":0.018}]
},
"columns": 2,
"spacing": {"row": 80, "column": 205},
"bounds": "flush",
"concat": [
{"width":1058,"height":81,"title":"8762075, Port_Fourchon_Belle_Pass, msl, RMSE:[0.045], bias:[-0.0]","data":{"name":"p1"},"transform":[{"fold":["fcst","obs"]},{"filter":"isValid(datum.value)"}],"mark":"line","encoding":{"x":{"field":"h","type":"quantitative","scale":{"domain":[0,108.2],"nice":false},"axis":{"values":[0,24,48,72,96],"labelExpr":"'08/'+(12+datum.value/24)"}},"y":{"field":"value","type":"quantitative","scale":{"domain":[-0.3,0.275],"nice":false,"zero":false},"axis":{"values":[-0.25,0,0.25],"format":".2f"}},"color":{"field":"key","type":"nominal","scale":{"domain":["fcst","obs"],"range":["black","red"]},"legend":{"title":null,"orient":"none","legendX":491,"legendY":3,"symbolType":"stroke","symbolSize":784,"symbolStrokeWidth":2,"labelFontSize":14,"labelColor":"black","labelOffset":8,"rowPadding":-2,"padding":5,"strokeColor":"#cccccc","fillColor":"white","cornerRadius":3}}}},
{"width":1058,"height":81,"title":"8761724, Grand_Isle, msl, RMSE:[0.051], bias:[-0.023]","data":{"name":"p2"},"transform":[{"fold":["fcst","obs"]},{"filter":"isValid(datum.value)"}],"mark":"line","encoding":{"x":{"field":"h","type":"quantitative","scale":{"domain":[0,108.2],"nice":false},"axis":{"values":[0,24,48,72,96],"labelExpr":"'08/'+(12+datum.value/24)"}},"y":{"field":"value","type":"quantitative","scale":{"domain":[-0.265,0.272],"nice":false,"zero":false},"axis":{"values":[-0.25,0,0.25],"format":".2f"}},"color":{"field":"key","type":"nominal","scale":{"domain":["fcst","obs"],"range":["black","red"]},"legend":null}}},
{"width":1058,"height":81,"title":"8761305, Shell_Beach, navd, RMSE:[0.195], bias:[-0.173]","data":{"name":"p3"},"transform":[{"fold":["fcst","obs"]},{"filter":"isValid(datum.value)"}],"mark":"line","encoding":{"x":{"field":"h","type":"quantitative","scale":{"domain":[0,108.2],"nice":false},"axis":{"values":[0,24,48,72,96],"labelExpr":"'08/'+(12+datum.value/24)"}},"y":{"field":"value","type":"quantitative","scale":{"domain":[-0.7,0.315],"nice":false,"zero":false},"axis":{"values":[-0.5,0],"format":".1f"}},"color":{"field":"key","type":"nominal","scale":{"domain":["fcst","obs"],"range":["black","red"]},"legend":null}}},
{"width":1058,"height":81,"title":"8760922, Pilots_Station_East_S.W._Pass, msl, RMSE:[0.039], bias:[-0.0]","data":{"name":"p4"},"transform":[{"fold":["fcst","obs"]},{"filter":"isValid(datum.value)"}],"mark":"line","encoding":{"x":{"field":"h","type":"quantitative","scale":{"domain":[0,108.2],"nice":false},"axis":{"values":[0,24,48,72,96],"labelExpr":"'08/'+(12+datum.value/24)"}},"y":{"field":"value","type":"quantitative","scale":{"domain":[-0.33,0.308],"nice":false,"zero":false},"axis":{"values":[-0.25,0,0.25],"format":".2f"}},"color":{"field":"key","type":"nominal","scale":{"domain":["fcst","obs"],"range":["black","red"]},"legend":null}}},
{"width":1058,"height":81,"title":"8760721, Pilottown, msl, RMSE:[0.147], bias:[0.0]","data":{"name":"p5"},"transform":[{"fold":["fcst","obs"]},{"filter":"isValid(datum.value)"}],"mark":"line","encoding":{"x":{"field":"h","type":"quantitative","scale":{"domain":[0,108.2],"nice":false},"axis":{"values":[0,24,48,72,96],"labelExpr":"'08/'+(12+datum.value/24)"}},"y":{"field":"value","type":"quantitative","scale":{"domain":[-0.282,0.273],"nice":false,"zero":false},"axis":{"values":[-0.25,0,0.25],"format":".2f"}},"color":{"field":"key","type":"nominal","scale":{"domain":["fcst","obs"],"range":["black","red"]},"legend":null}}},
{"width":1058,"height":81,"title":"8747437, Bay_Waveland_Yacht_Club, navd, RMSE:[0.101], bias:[-0.069]","data":{"name":"p6"},"transform":[{"fold":["fcst","obs"]},{"filter":"isValid(datum.value)"}],"mark":"line","encoding":{"x":{"field":"h","type":"quantitative","scale":{"domain":[0,108.2],"nice":false},"axis":{"values":[0,24,48,72,96],"labelExpr":"'08/'+(12+datum.value/24)"}},"y":{"field":"value","type":"quantitative","scale":{"domain":[-0.53,0.223],"nice":false,"zero":false},"axis":{"values":[-0.5,0],"format":".1f"}},"color":{"field":"key","type":"nominal","scale":{"domain":["fcst","obs"],"range":["black","red"]},"legend":null}}},
{"width":1058,"height":81,"title":"8741533, Pascagoula_NOAA_Lab, navd, RMSE:[0.136], bias:[-0.122]","data":{"name":"p7"},"transform":[{"fold":["fcst","obs"]},{"filter":"isValid(datum.value)"}],"mark":"line","encoding":{"x":{"field":"h","type":"quantitative","scale":{"domain":[0,108.2],"nice":false},"axis":{"values":[0,24,48,72,96],"labelExpr":"'08/'+(12+datum.value/24)"}},"y":{"field":"value","type":"quantitative","scale":{"domain":[-0.523,0.276],"nice":false,"zero":false},"axis":{"values":[-0.5,0],"format":".1f"}},"color":{"field":"key","type":"nominal","scale":{"domain":["fcst","obs"],"range":["black","red"]},"legend":null}}},
{"width":1058,"height":81,"title":"8740166, Grand_Bay_NERR","data":{"name":"p8"},"transform":[{"fold":["fcst","obs"]},{"filter":"isValid(datum.value)"}],"mark":"line","encoding":{"x":{"field":"h","type":"quantitative","scale":{"domain":[-4.26,112.85],"nice":false},"axis":{"values":[0,12,24,36,48,60,72,84,96,108],"labelExpr":"'08-'+(12+floor(datum.value/24))+' '+(datum.value%24==0?'00':'12')"}},"y":{"field":"value","type":"quantitative","scale":{"domain":[-0.434,0.162],"nice":false,"zero":false},"axis":{"values":[-0.25,0],"format":".2f"}},"color":{"field":"key","type":"nominal","scale":{"domain":["fcst","obs"],"range":["black","red"]},"legend":null}}},
{"width":1058,"height":81,"title":"8739803, Bayou_La_Batre_Bridge, navd, RMSE:[0.146], bias:[-0.134]","data":{"name":"p9"},"transform":[{"fold":["fcst","obs"]},{"filter":"isValid(datum.value)"}],"mark":"line","encoding":{"x":{"field":"h","type":"quantitative","scale":{"domain":[0,108.2],"nice":false},"axis":{"values":[0,24,48,72,96],"labelExpr":"'08/'+(12+datum.value/24)"}},"y":{"field":"value","type":"quantitative","scale":{"domain":[-0.507,0.315],"nice":false,"zero":false},"axis":{"values":[-0.5,0],"format":".1f"}},"color":{"field":"key","type":"nominal","scale":{"domain":["fcst","obs"],"range":["black","red"]},"legend":null}}},
{"width":1058,"height":81,"title":"8738043, West_Fowl_River_Bridge, navd, RMSE:[0.157], bias:[-0.004]","data":{"name":"p10"},"transform":[{"fold":["fcst","obs"]},{"filter":"isValid(datum.value)"}],"mark":"line","encoding":{"x":{"field":"h","type":"quantitative","scale":{"domain":[0,108.2],"nice":false},"axis":{"values":[0,24,48,72,96],"labelExpr":"'08/'+(12+datum.value/24)"}},"y":{"field":"value","type":"quantitative","scale":{"domain":[-0.394,0.333],"nice":false,"zero":false},"axis":{"values":[-0.25,0,0.25],"format":".2f"}},"color":{"field":"key","type":"nominal","scale":{"domain":["fcst","obs"],"range":["black","red"]},"legend":null}}},
{"width":1058,"height":81,"title":"8735180, Dauphin_Island, navd, RMSE:[0.161], bias:[-0.148]","data":{"name":"p11"},"transform":[{"fold":["fcst","obs"]},{"filter":"isValid(datum.value)"}],"mark":"line","encoding":{"x":{"field":"h","type":"quantitative","scale":{"domain":[0,108.2],"nice":false},"axis":{"values":[0,24,48,72,96],"labelExpr":"'08/'+(12+datum.value/24)"}},"y":{"field":"value","type":"quantitative","scale":{"domain":[-0.53,0.261],"nice":false,"zero":false},"axis":{"values":[-0.5,0],"format":".1f"}},"color":{"field":"key","type":"nominal","scale":{"domain":["fcst","obs"],"range":["black","red"]},"legend":null}}},
{"width":1058,"height":81,"title":"8732828, Weeks_Bay_Mobile_Bay","data":{"name":"p12"},"transform":[{"fold":["fcst","obs"]},{"filter":"isValid(datum.value)"}],"mark":"line","encoding":{"x":{"field":"h","type":"quantitative","scale":{"domain":[-4.26,112.85],"nice":false},"axis":{"values":[0,12,24,36,48,60,72,84,96,108],"labelExpr":"'08-'+(12+floor(datum.value/24))+' '+(datum.value%24==0?'00':'12')"}},"y":{"field":"value","type":"quantitative","scale":{"domain":[-0.506,0.174],"nice":false,"zero":false},"axis":{"values":[-0.5,0],"format":".1f"}},"color":{"field":"key","type":"nominal","scale":{"domain":["fcst","obs"],"range":["black","red"]},"legend":null}}},
{"width":1058,"height":81,"title":"8729840, Pensacola, navd, RMSE:[0.207], bias:[-0.185]","data":{"name":"p13"},"transform":[{"fold":["fcst","obs"]},{"filter":"isValid(datum.value)"}],"mark":"line","encoding":{"x":{"field":"h","type":"quantitative","scale":{"domain":[0,108.2],"nice":false},"axis":{"values":[0,24,48,72,96],"labelExpr":"'08/'+(12+datum.value/24)"}},"y":{"field":"value","type":"quantitative","scale":{"domain":[-0.452,0.312],"nice":false,"zero":false},"axis":{"values":[-0.25,0,0.25],"format":".2f"}},"color":{"field":"key","type":"nominal","scale":{"domain":["fcst","obs"],"range":["black","red"]},"legend":null}}},
{"width":1058,"height":81,"title":"8729210, Panama_City_Beach, navd, RMSE:[0.155], bias:[-0.149]","data":{"name":"p14"},"transform":[{"fold":["fcst","obs"]},{"filter":"isValid(datum.value)"}],"mark":"line","encoding":{"x":{"field":"h","type":"quantitative","scale":{"domain":[0,108.2],"nice":false},"axis":{"values":[0,24,48,72,96],"labelExpr":"'08/'+(12+datum.value/24)"}},"y":{"field":"value","type":"quantitative","scale":{"domain":[-0.469,0.353],"nice":false,"zero":false},"axis":{"values":[-0.25,0,0.25],"format":".2f"}},"color":{"field":"key","type":"nominal","scale":{"domain":["fcst","obs"],"range":["black","red"]},"legend":null}}},
{"width":1058,"height":81,"title":"8729108, Panama_City, navd, RMSE:[0.1], bias:[-0.089]","data":{"name":"p15"},"transform":[{"fold":["fcst","obs"]},{"filter":"isValid(datum.value)"}],"mark":"line","encoding":{"x":{"field":"h","type":"quantitative","scale":{"domain":[0,108.2],"nice":false},"axis":{"values":[0,24,48,72,96],"labelExpr":"'08/'+(12+datum.value/24)"}},"y":{"field":"value","type":"quantitative","scale":{"domain":[-0.449,0.27],"nice":false,"zero":false},"axis":{"values":[-0.25,0,0.25],"format":".2f"}},"color":{"field":"key","type":"nominal","scale":{"domain":["fcst","obs"],"range":["black","red"]},"legend":null}}},
{"width":1058,"height":81,"title":"8728690, Apalachicola, navd, RMSE:[0.181], bias:[-0.145]","data":{"name":"p16"},"transform":[{"fold":["fcst","obs"]},{"filter":"isValid(datum.value)"}],"mark":"line","encoding":{"x":{"field":"h","type":"quantitative","scale":{"domain":[0,108.2],"nice":false},"axis":{"values":[0,24,48,72,96],"labelExpr":"'08/'+(12+datum.value/24)"}},"y":{"field":"value","type":"quantitative","scale":{"domain":[-0.439,0.329],"nice":false,"zero":false},"axis":{"values":[-0.25,0,0.25],"format":".2f"}},"color":{"field":"key","type":"nominal","scale":{"domain":["fcst","obs"],"range":["black","red"]},"legend":null}}},
{"width":1058,"height":81,"title":"8727520, Cedar_Key, navd, RMSE:[0.176], bias:[-0.122]","data":{"name":"p17"},"transform":[{"fold":["fcst","obs"]},{"filter":"isValid(datum.value)"}],"mark":"line","encoding":{"x":{"field":"h","type":"quantitative","scale":{"domain":[0,108.2],"nice":false},"axis":{"values":[0,24,48,72,96],"labelExpr":"'08/'+(12+datum.value/24)"}},"y":{"field":"value","type":"quantitative","scale":{"domain":[-0.916,0.776],"nice":false,"zero":false},"axis":{"values":[-0.5,0,0.5],"format":".1f"}},"color":{"field":"key","type":"nominal","scale":{"domain":["fcst","obs"],"range":["black","red"]},"legend":null}}},
{"width":1058,"height":81,"title":"8726724, Clearwater_Beach, navd, RMSE:[0.162], bias:[-0.125]","data":{"name":"p18"},"transform":[{"fold":["fcst","obs"]},{"filter":"isValid(datum.value)"}],"mark":"line","encoding":{"x":{"field":"h","type":"quantitative","scale":{"domain":[0,108.2],"nice":false},"axis":{"values":[0,24,48,72,96],"labelExpr":"'08/'+(12+datum.value/24)"}},"y":{"field":"value","type":"quantitative","scale":{"domain":[-0.717,0.578],"nice":false,"zero":false},"axis":{"values":[-0.5,0,0.5],"format":".1f"}},"color":{"field":"key","type":"nominal","scale":{"domain":["fcst","obs"],"range":["black","red"]},"legend":null}}},
{"width":1058,"height":81,"title":"8726520, Tampa Bay, navd, RMSE:[0.165], bias:[-0.15]","data":{"name":"p19"},"transform":[{"fold":["fcst","obs"]},{"filter":"isValid(datum.value)"}],"mark":"line","encoding":{"x":{"field":"h","type":"quantitative","scale":{"domain":[0,108.2],"nice":false},"axis":{"values":[0,24,48,72,96],"labelExpr":"'08/'+(12+datum.value/24)"}},"y":{"field":"value","type":"quantitative","scale":{"domain":[-0.605,0.538],"nice":false,"zero":false},"axis":{"values":[-0.5,0,0.5],"format":".1f"}},"color":{"field":"key","type":"nominal","scale":{"domain":["fcst","obs"],"range":["black","red"]},"legend":null}}},
{"width":1058,"height":81,"title":"8726384, Port_Manatee, navd, RMSE:[0.151], bias:[-0.136]","data":{"name":"p20"},"transform":[{"fold":["fcst","obs"]},{"filter":"isValid(datum.value)"}],"mark":"line","encoding":{"x":{"field":"h","type":"quantitative","scale":{"domain":[0,108.2],"nice":false},"axis":{"values":[0,24,48,72,96],"labelExpr":"'08/'+(12+datum.value/24)"}},"y":{"field":"value","type":"quantitative","scale":{"domain":[-0.575,0.487],"nice":false,"zero":false},"axis":{"values":[-0.5,0],"format":".1f"}},"color":{"field":"key","type":"nominal","scale":{"domain":["fcst","obs"],"range":["black","red"]},"legend":null}}}
]
}
